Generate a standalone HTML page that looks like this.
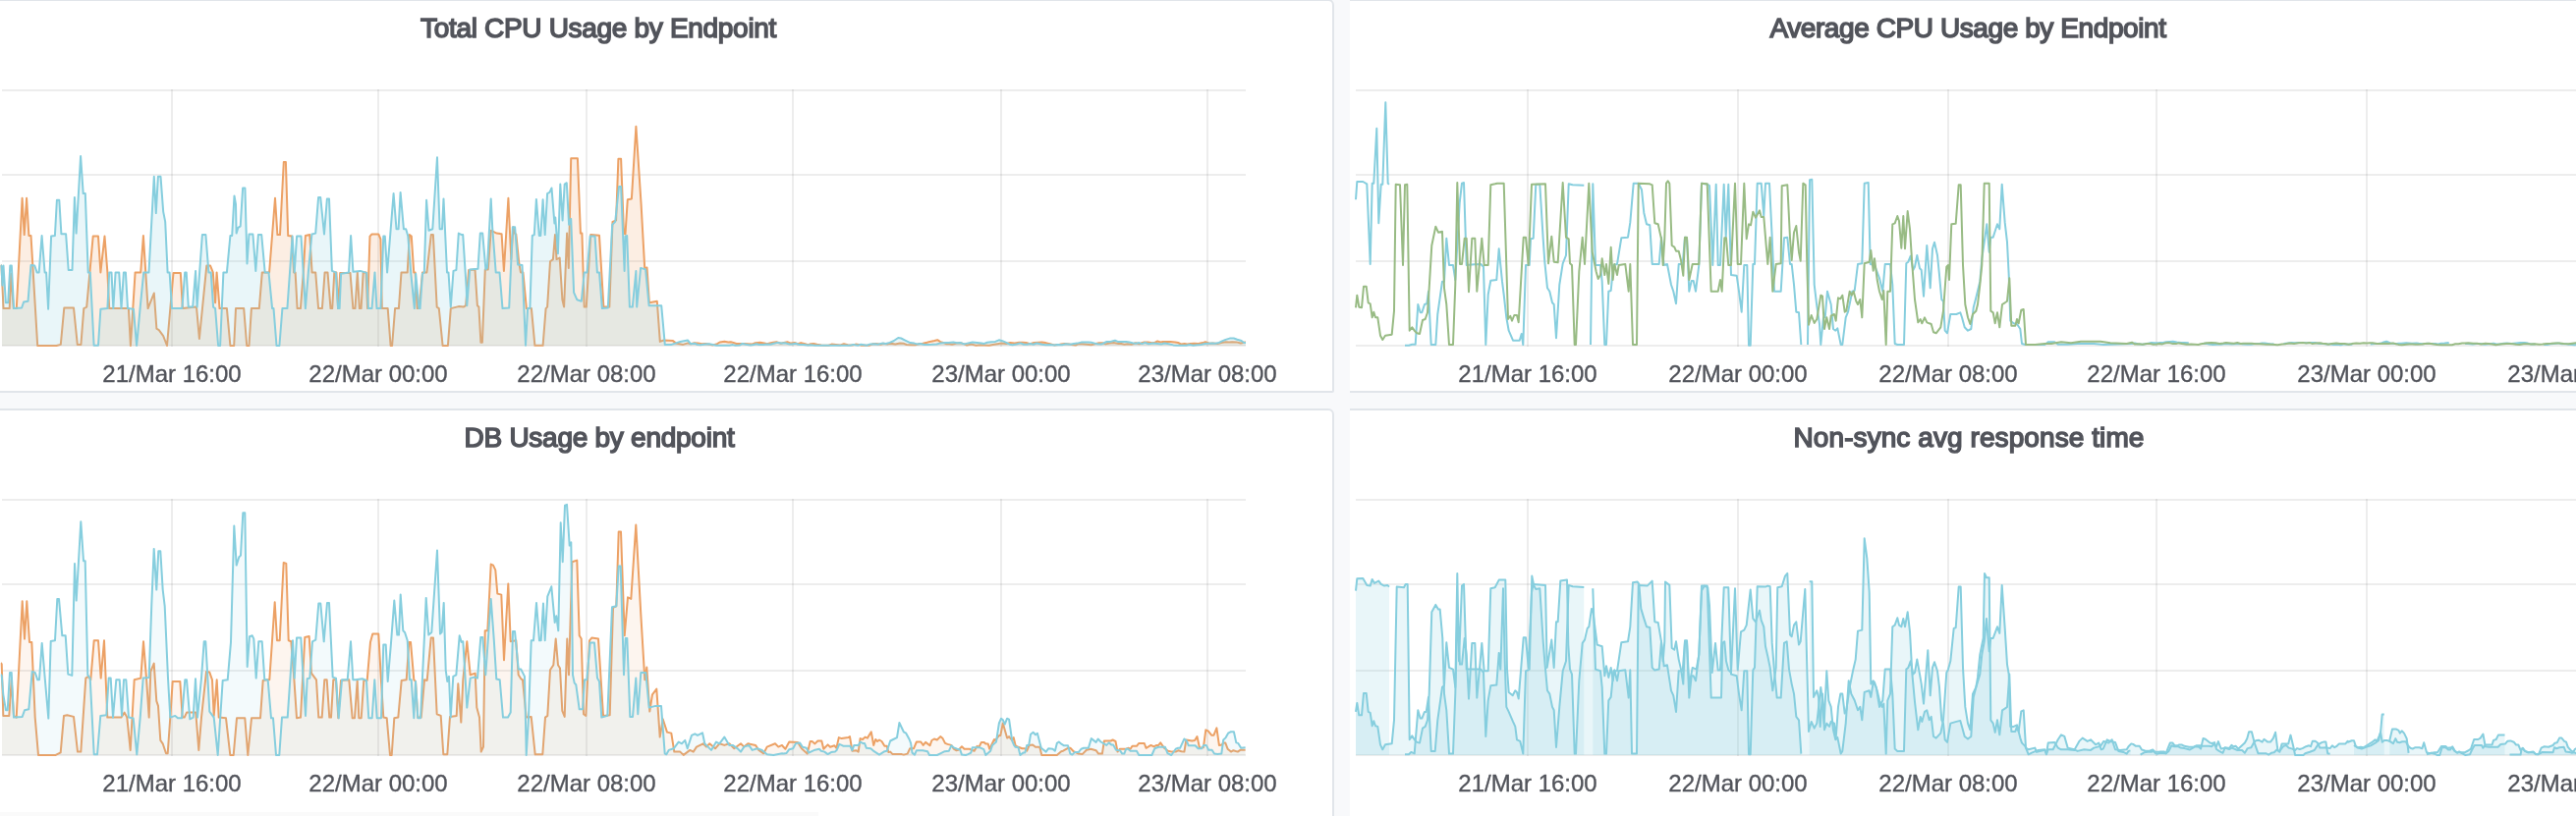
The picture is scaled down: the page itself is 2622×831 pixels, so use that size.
<!DOCTYPE html>
<html lang="en">
<head>
<meta charset="utf-8">
<title>Dashboard</title>
<style>
html,body{margin:0;padding:0}
body{width:2622px;height:831px;overflow:hidden;background:#f8f9fb;position:relative;font-family:"Liberation Sans",Arial,sans-serif;color:#52545b}
.panel{position:absolute;background:#fff;border:2px solid #e1e5ea;box-sizing:border-box;border-radius:6px}
.panel.right{border-left:none;border-top-left-radius:0;border-bottom-left-radius:0}
#p1{left:-142px;top:-1px;width:1500px;height:401px;border-bottom-right-radius:2px}
#p2{left:1374px;top:-1px;width:1290px;height:401px}
#p3{left:-142px;top:416px;width:1500px;height:441px}
#p4{left:1374px;top:416px;width:1290px;height:441px}
.plots{position:absolute;left:0;top:0}
.title{position:absolute;will-change:transform;width:600px;text-align:center;font-weight:normal;-webkit-text-stroke:1.5px #52545b;font-size:28px;line-height:28px;white-space:nowrap}
.tick{position:absolute;will-change:transform;-webkit-text-stroke:0.35px #52545b;width:200px;text-align:center;font-size:24px;line-height:24px;white-space:nowrap}
.sb{position:absolute;left:0;top:827px;width:833px;height:4px;background:#fafafa}
</style>
</head>
<body>
<div class="panel" id="p1"></div>
<div class="panel right" id="p2"></div>
<div class="panel" id="p3"></div>
<div class="panel right" id="p4"></div>
<svg class="plots" width="2622" height="831" viewBox="0 0 2622 831"><rect x="2" y="91" width="1266" height="2" fill="rgba(0,0,0,0.07)"/>
<rect x="2" y="177" width="1266" height="2" fill="rgba(0,0,0,0.07)"/>
<rect x="2" y="265" width="1266" height="2" fill="rgba(0,0,0,0.07)"/>
<rect x="2" y="351" width="1266" height="2" fill="rgba(0,0,0,0.07)"/>
<rect x="174" y="91" width="2" height="262" fill="rgba(0,0,0,0.07)"/>
<rect x="384" y="91" width="2" height="262" fill="rgba(0,0,0,0.07)"/>
<rect x="596" y="91" width="2" height="262" fill="rgba(0,0,0,0.07)"/>
<rect x="806" y="91" width="2" height="262" fill="rgba(0,0,0,0.07)"/>
<rect x="1018" y="91" width="2" height="262" fill="rgba(0,0,0,0.07)"/>
<rect x="1228" y="91" width="2" height="262" fill="rgba(0,0,0,0.07)"/>
<rect x="2" y="508" width="1266" height="2" fill="rgba(0,0,0,0.07)"/>
<rect x="2" y="594" width="1266" height="2" fill="rgba(0,0,0,0.07)"/>
<rect x="2" y="682" width="1266" height="2" fill="rgba(0,0,0,0.07)"/>
<rect x="2" y="768" width="1266" height="2" fill="rgba(0,0,0,0.07)"/>
<rect x="174" y="508" width="2" height="262" fill="rgba(0,0,0,0.07)"/>
<rect x="384" y="508" width="2" height="262" fill="rgba(0,0,0,0.07)"/>
<rect x="596" y="508" width="2" height="262" fill="rgba(0,0,0,0.07)"/>
<rect x="806" y="508" width="2" height="262" fill="rgba(0,0,0,0.07)"/>
<rect x="1018" y="508" width="2" height="262" fill="rgba(0,0,0,0.07)"/>
<rect x="1228" y="508" width="2" height="262" fill="rgba(0,0,0,0.07)"/>
<rect x="1380" y="91" width="1260" height="2" fill="rgba(0,0,0,0.07)"/>
<rect x="1380" y="177" width="1260" height="2" fill="rgba(0,0,0,0.07)"/>
<rect x="1380" y="265" width="1260" height="2" fill="rgba(0,0,0,0.07)"/>
<rect x="1380" y="351" width="1260" height="2" fill="rgba(0,0,0,0.07)"/>
<rect x="1554" y="91" width="2" height="262" fill="rgba(0,0,0,0.07)"/>
<rect x="1768" y="91" width="2" height="262" fill="rgba(0,0,0,0.07)"/>
<rect x="1982" y="91" width="2" height="262" fill="rgba(0,0,0,0.07)"/>
<rect x="2194" y="91" width="2" height="262" fill="rgba(0,0,0,0.07)"/>
<rect x="2408" y="91" width="2" height="262" fill="rgba(0,0,0,0.07)"/>
<rect x="1380" y="508" width="1260" height="2" fill="rgba(0,0,0,0.07)"/>
<rect x="1380" y="594" width="1260" height="2" fill="rgba(0,0,0,0.07)"/>
<rect x="1380" y="682" width="1260" height="2" fill="rgba(0,0,0,0.07)"/>
<rect x="1380" y="768" width="1260" height="2" fill="rgba(0,0,0,0.07)"/>
<rect x="1554" y="508" width="2" height="262" fill="rgba(0,0,0,0.07)"/>
<rect x="1768" y="508" width="2" height="262" fill="rgba(0,0,0,0.07)"/>
<rect x="1982" y="508" width="2" height="262" fill="rgba(0,0,0,0.07)"/>
<rect x="2194" y="508" width="2" height="262" fill="rgba(0,0,0,0.07)"/>
<rect x="2408" y="508" width="2" height="262" fill="rgba(0,0,0,0.07)"/>
<g><path d="M2,352 L2,270.6 L1.5,270.6 L3.5,314.1 L9.7,314.1 L11.2,278.8 L13.8,314.1 L16.8,314.1 L22.6,201.8 L24.7,239.1 L27.1,201.8 L29.4,240.0 L31.5,240.0 L38.2,352 L57.4,352 L61.8,350.9 L65.3,313.5 L75.0,313.5 L78.8,350.9 L82.4,350.9 L85.3,314.1 L88.2,312.6 L94.7,240.6 L100.0,240.6 L102.4,277.4 L106.5,240.6 L109.4,277.4 L111.2,314.1 L130.9,314.1 L132.9,352 L137.6,277.4 L143.2,277.4 L145.9,240.0 L150.6,314.1 L156.8,298.5 L159.4,334.7 L161.8,336.2 L166.2,342.1 L170.0,352 L176.5,277.9 L183.8,277.9 L185.9,314.1 L200.0,312.6 L202.9,345.0 L210.3,270.6 L214.1,270.6 L216.8,277.4 L219.1,308.2 L220.6,277.4 L223.5,314.1 L230.9,314.1 L234.4,352 L238.2,352 L240.0,314.1 L240.3,314.1 L248.2,314.1 L251.2,352 L253.5,352 L255.9,314.1 L263.8,314.1 L266.8,277.4 L274.1,277.4 L280.0,201.8 L282.4,239.1 L285.0,239.1 L288.8,165.0 L290.9,165.0 L293.2,240.0 L297.1,240.6 L299.1,277.4 L300.6,277.4 L302.6,314.1 L305.9,314.1 L308.8,277.4 L310.9,240.0 L315.3,239.1 L317.6,277.4 L321.2,277.4 L324.1,314.1 L327.9,314.1 L330.6,277.4 L333.5,277.4 L336.5,314.1 L338.2,314.1 L340.3,277.4 L342.4,277.4 L344.1,314.1 L346.2,277.9 L356.5,277.9 L359.4,314.1 L361.5,314.1 L363.8,277.4 L365.9,314.1 L367.6,314.1 L369.7,277.4 L372.6,277.4 L374.1,314.1 L376.5,240.6 L378.5,238.5 L385.3,238.5 L387.4,243.5 L388.8,314.1 L394.7,314.1 L397.6,352 L399.1,352 L402.1,314.1 L405.9,314.1 L408.5,277.4 L414.7,277.4 L416.8,239.1 L418.8,240.6 L421.2,277.4 L422.6,277.4 L424.7,314.1 L426.5,314.1 L430.0,277.4 L434.4,277.4 L438.8,239.1 L440.9,239.1 L444.7,312.6 L446.8,314.1 L450.6,352 L455.9,352 L458.8,314.1 L466.8,312.1 L471.8,312.6 L474.1,311.2 L477.1,275.0 L483.5,274.4 L485.9,311.2 L487.4,312.6 L489.4,348.8 L490.9,348.8 L493.8,274.4 L496.8,274.4 L499.7,234.7 L505.6,237.6 L510.6,238.2 L512.9,275.9 L517.4,201.8 L520.3,264.1 L522.4,231.2 L523.8,237.6 L525.3,238.5 L528.2,267.1 L530.0,277.4 L532.4,277.4 L535.9,314.1 L540.9,314.1 L544.4,351.8 L552.6,351.8 L555.6,314.1 L557.1,312.6 L560.0,266.2 L562.9,264.1 L565.0,239.1 L566.5,264.1 L569.7,262.6 L572.4,305.3 L574.1,312.6 L577.1,237.6 L578.8,272.9 L581.2,161.2 L587.9,161.2 L590.9,237.6 L592.4,237.6 L594.7,312.6 L596.8,312.6 L601.2,239.1 L610.0,239.7 L614.4,312.6 L620.3,312.6 L623.5,225.9 L627.1,224.4 L629.4,161.8 L632.1,161.8 L635.0,237.6 L636.5,238.5 L638.8,203.2 L642.9,202.4 L647.4,128.8 L652.6,208.2 L656.2,272.9 L658.5,272.4 L660.9,308.2 L668.8,306.8 L671.8,347.9 L675.6,346.5 L685.0,347.1 L687.9,349.4 L695.3,350.9 L700.0,349.4 L703.0,350.2 L706.8,349.2 L710.4,349.4 L714.3,350.3 L718.0,349.9 L722.4,350.8 L725.6,351.4 L730.0,350.1 L732.6,348.5 L737.4,347.7 L741.3,348.4 L743.8,348.2 L746.4,348.9 L749.5,350.0 L753.1,350.0 L757.6,350.1 L761.6,350.3 L765.7,350.5 L768.8,349.3 L773.7,348.7 L777.9,349.5 L780.9,350.2 L783.5,349.5 L786.9,348.8 L790.3,348.3 L794.9,349.8 L797.8,348.9 L801.4,348.3 L804.9,349.6 L808.8,349.0 L812.0,350.3 L815.2,349.1 L819.5,350.3 L822.6,351.2 L825.2,350.2 L828.1,350.0 L831.6,350.8 L835.9,351.5 L839.9,351.8 L843.4,351.8 L846.5,350.6 L850.9,350.9 L855.5,351.4 L858.9,350.2 L862.9,351.2 L867.8,351.6 L870.9,350.6 L874.2,350.9 L876.8,351.7 L880.7,351.8 L884.6,351.8 L888.1,350.3 L891.8,350.0 L896.4,350.8 L899.2,349.7 L903.6,350.4 L906.6,349.7 L911.3,350.5 L916.1,349.5 L920.0,349.8 L922.7,351.0 L927.5,351.3 L931.7,351.3 L936.2,350.0 L939.3,349.8 L943.6,348.8 L946.6,347.9 L951.1,347.0 L954.2,346.2 L957.2,348.2 L960.3,349.0 L962.9,350.2 L966.2,350.3 L969.0,350.7 L973.7,349.6 L977.7,349.3 L981.6,350.4 L984.1,351.5 L988.8,350.6 L993.6,351.7 L997.6,351.3 L1001.9,351.4 L1006.8,351.8 L1010.6,351.1 L1015.2,350.2 L1019.4,349.5 L1024.1,350.0 L1028.2,349.1 L1032.8,349.5 L1037.2,348.8 L1041.0,348.8 L1044.4,348.9 L1048.4,350.2 L1052.4,349.0 L1057.0,348.7 L1060.4,348.5 L1064.3,349.1 L1068.8,350.3 L1073.0,351.4 L1077.0,351.1 L1080.0,350.4 L1083.7,350.0 L1088.4,350.6 L1090.8,351.0 L1094.9,351.5 L1097.8,350.2 L1101.9,350.3 L1106.5,350.7 L1110.6,351.2 L1114.1,350.2 L1118.8,349.3 L1122.2,349.3 L1125.4,350.4 L1129.1,349.5 L1133.6,349.1 L1138.4,349.9 L1141.2,350.1 L1144.4,350.8 L1147.8,350.3 L1151.5,350.7 L1156.0,349.3 L1159.6,350.3 L1162.1,349.1 L1164.6,348.5 L1168.5,348.6 L1172.9,349.2 L1175.7,348.7 L1178.2,347.5 L1181.2,348.4 L1183.8,348.0 L1187.3,348.1 L1191.4,348.0 L1196.2,348.4 L1199.1,349.0 L1202.0,350.5 L1205.6,350.0 L1208.5,350.6 L1211.8,350.0 L1215.5,349.8 L1219.8,350.1 L1224.2,349.1 L1226.9,348.3 L1231.1,349.7 L1234.6,349.5 L1239.3,349.9 L1243.2,349.1 L1247.6,348.3 L1251.2,348.4 L1254.1,348.3 L1258.6,348.4 L1262.8,349.5 L1267.4,348.5 L1268,348.5 L1268,352 Z" fill="#eca165" fill-opacity="0.18" stroke="none"/><polyline points="2,270.6 1.5,270.6 3.5,314.1 9.7,314.1 11.2,278.8 13.8,314.1 16.8,314.1 22.6,201.8 24.7,239.1 27.1,201.8 29.4,240.0 31.5,240.0 38.2,352 57.4,352 61.8,350.9 65.3,313.5 75.0,313.5 78.8,350.9 82.4,350.9 85.3,314.1 88.2,312.6 94.7,240.6 100.0,240.6 102.4,277.4 106.5,240.6 109.4,277.4 111.2,314.1 130.9,314.1 132.9,352 137.6,277.4 143.2,277.4 145.9,240.0 150.6,314.1 156.8,298.5 159.4,334.7 161.8,336.2 166.2,342.1 170.0,352 176.5,277.9 183.8,277.9 185.9,314.1 200.0,312.6 202.9,345.0 210.3,270.6 214.1,270.6 216.8,277.4 219.1,308.2 220.6,277.4 223.5,314.1 230.9,314.1 234.4,352 238.2,352 240.0,314.1 240.3,314.1 248.2,314.1 251.2,352 253.5,352 255.9,314.1 263.8,314.1 266.8,277.4 274.1,277.4 280.0,201.8 282.4,239.1 285.0,239.1 288.8,165.0 290.9,165.0 293.2,240.0 297.1,240.6 299.1,277.4 300.6,277.4 302.6,314.1 305.9,314.1 308.8,277.4 310.9,240.0 315.3,239.1 317.6,277.4 321.2,277.4 324.1,314.1 327.9,314.1 330.6,277.4 333.5,277.4 336.5,314.1 338.2,314.1 340.3,277.4 342.4,277.4 344.1,314.1 346.2,277.9 356.5,277.9 359.4,314.1 361.5,314.1 363.8,277.4 365.9,314.1 367.6,314.1 369.7,277.4 372.6,277.4 374.1,314.1 376.5,240.6 378.5,238.5 385.3,238.5 387.4,243.5 388.8,314.1 394.7,314.1 397.6,352 399.1,352 402.1,314.1 405.9,314.1 408.5,277.4 414.7,277.4 416.8,239.1 418.8,240.6 421.2,277.4 422.6,277.4 424.7,314.1 426.5,314.1 430.0,277.4 434.4,277.4 438.8,239.1 440.9,239.1 444.7,312.6 446.8,314.1 450.6,352 455.9,352 458.8,314.1 466.8,312.1 471.8,312.6 474.1,311.2 477.1,275.0 483.5,274.4 485.9,311.2 487.4,312.6 489.4,348.8 490.9,348.8 493.8,274.4 496.8,274.4 499.7,234.7 505.6,237.6 510.6,238.2 512.9,275.9 517.4,201.8 520.3,264.1 522.4,231.2 523.8,237.6 525.3,238.5 528.2,267.1 530.0,277.4 532.4,277.4 535.9,314.1 540.9,314.1 544.4,351.8 552.6,351.8 555.6,314.1 557.1,312.6 560.0,266.2 562.9,264.1 565.0,239.1 566.5,264.1 569.7,262.6 572.4,305.3 574.1,312.6 577.1,237.6 578.8,272.9 581.2,161.2 587.9,161.2 590.9,237.6 592.4,237.6 594.7,312.6 596.8,312.6 601.2,239.1 610.0,239.7 614.4,312.6 620.3,312.6 623.5,225.9 627.1,224.4 629.4,161.8 632.1,161.8 635.0,237.6 636.5,238.5 638.8,203.2 642.9,202.4 647.4,128.8 652.6,208.2 656.2,272.9 658.5,272.4 660.9,308.2 668.8,306.8 671.8,347.9 675.6,346.5 685.0,347.1 687.9,349.4 695.3,350.9 700.0,349.4 703.0,350.2 706.8,349.2 710.4,349.4 714.3,350.3 718.0,349.9 722.4,350.8 725.6,351.4 730.0,350.1 732.6,348.5 737.4,347.7 741.3,348.4 743.8,348.2 746.4,348.9 749.5,350.0 753.1,350.0 757.6,350.1 761.6,350.3 765.7,350.5 768.8,349.3 773.7,348.7 777.9,349.5 780.9,350.2 783.5,349.5 786.9,348.8 790.3,348.3 794.9,349.8 797.8,348.9 801.4,348.3 804.9,349.6 808.8,349.0 812.0,350.3 815.2,349.1 819.5,350.3 822.6,351.2 825.2,350.2 828.1,350.0 831.6,350.8 835.9,351.5 839.9,351.8 843.4,351.8 846.5,350.6 850.9,350.9 855.5,351.4 858.9,350.2 862.9,351.2 867.8,351.6 870.9,350.6 874.2,350.9 876.8,351.7 880.7,351.8 884.6,351.8 888.1,350.3 891.8,350.0 896.4,350.8 899.2,349.7 903.6,350.4 906.6,349.7 911.3,350.5 916.1,349.5 920.0,349.8 922.7,351.0 927.5,351.3 931.7,351.3 936.2,350.0 939.3,349.8 943.6,348.8 946.6,347.9 951.1,347.0 954.2,346.2 957.2,348.2 960.3,349.0 962.9,350.2 966.2,350.3 969.0,350.7 973.7,349.6 977.7,349.3 981.6,350.4 984.1,351.5 988.8,350.6 993.6,351.7 997.6,351.3 1001.9,351.4 1006.8,351.8 1010.6,351.1 1015.2,350.2 1019.4,349.5 1024.1,350.0 1028.2,349.1 1032.8,349.5 1037.2,348.8 1041.0,348.8 1044.4,348.9 1048.4,350.2 1052.4,349.0 1057.0,348.7 1060.4,348.5 1064.3,349.1 1068.8,350.3 1073.0,351.4 1077.0,351.1 1080.0,350.4 1083.7,350.0 1088.4,350.6 1090.8,351.0 1094.9,351.5 1097.8,350.2 1101.9,350.3 1106.5,350.7 1110.6,351.2 1114.1,350.2 1118.8,349.3 1122.2,349.3 1125.4,350.4 1129.1,349.5 1133.6,349.1 1138.4,349.9 1141.2,350.1 1144.4,350.8 1147.8,350.3 1151.5,350.7 1156.0,349.3 1159.6,350.3 1162.1,349.1 1164.6,348.5 1168.5,348.6 1172.9,349.2 1175.7,348.7 1178.2,347.5 1181.2,348.4 1183.8,348.0 1187.3,348.1 1191.4,348.0 1196.2,348.4 1199.1,349.0 1202.0,350.5 1205.6,350.0 1208.5,350.6 1211.8,350.0 1215.5,349.8 1219.8,350.1 1224.2,349.1 1226.9,348.3 1231.1,349.7 1234.6,349.5 1239.3,349.9 1243.2,349.1 1247.6,348.3 1251.2,348.4 1254.1,348.3 1258.6,348.4 1262.8,349.5 1267.4,348.5 1268,348.5" fill="none" stroke="#eca165" stroke-width="2" stroke-linejoin="round" stroke-linecap="butt"/><path d="M2,352 L2,270.6 L1.5,270.6 L2.4,290.6 L3.5,270.6 L5.9,308.2 L8.2,308.2 L10.3,270.6 L11.8,270.6 L14.1,314.1 L22.1,313.5 L24.1,307.6 L28.5,306.8 L31.5,270.0 L35.3,270.6 L37.6,277.4 L39.7,277.4 L42.6,240.0 L45.6,277.4 L47.1,277.4 L49.1,314.7 L52.1,240.6 L55.9,240.0 L57.9,203.8 L60.3,203.8 L62.4,238.2 L67.1,238.2 L69.7,275.0 L73.5,275.0 L75.9,200.9 L77.6,237.6 L82.1,159.1 L84.7,197.1 L86.8,197.1 L89.7,277.4 L91.8,277.4 L95.6,351.8 L100.0,351.8 L102.4,314.7 L109.4,314.1 L111.2,277.4 L113.5,277.4 L115.3,314.1 L117.6,277.4 L121.2,277.4 L123.5,314.1 L125.9,277.4 L127.9,277.4 L130.0,314.1 L135.9,314.7 L139.1,351.8 L142.6,314.1 L146.2,277.4 L151.5,277.4 L156.8,179.7 L158.8,217.1 L160.9,179.7 L163.5,179.7 L166.2,215.6 L168.2,225.9 L170.6,277.4 L172.6,277.4 L175.0,314.1 L185.3,314.1 L188.2,277.4 L189.7,277.4 L191.8,312.6 L196.2,312.6 L199.1,275.9 L200.6,312.6 L205.9,239.1 L209.4,239.1 L212.4,277.4 L214.7,277.4 L217.1,312.6 L219.1,314.1 L222.1,352 L224.1,352 L227.4,277.4 L230.9,277.4 L234.4,240.0 L236.2,240.0 L238.5,199.4 L240.0,208.2 L240.6,237.6 L242.4,231.8 L244.7,230.3 L247.1,191.5 L249.4,191.5 L250.6,234.7 L251.5,268.5 L253.5,238.5 L257.4,238.5 L260.3,275.9 L262.9,239.1 L266.2,239.1 L269.7,277.4 L273.5,277.4 L277.1,314.1 L278.5,314.1 L281.5,352 L284.4,352 L287.4,314.1 L292.4,314.1 L297.6,240.6 L299.7,277.4 L302.1,240.6 L306.5,240.6 L310.9,314.1 L313.8,277.4 L317.4,238.5 L321.2,237.6 L324.1,200.9 L326.2,200.9 L330.0,238.5 L332.9,202.4 L335.0,202.4 L337.9,275.9 L341.8,277.4 L344.1,314.1 L345.6,314.1 L347.1,278.8 L355.0,277.4 L357.1,240.0 L359.4,276.8 L366.8,275.9 L373.2,277.9 L375.0,314.1 L378.5,314.1 L381.5,277.4 L383.5,314.1 L387.4,314.1 L390.3,240.6 L391.8,240.6 L394.1,277.4 L397.1,240.6 L400.6,197.1 L403.5,233.2 L405.6,233.2 L407.6,195.9 L410.9,233.2 L413.2,233.2 L415.3,240.6 L418.2,277.4 L421.8,314.1 L423.2,278.8 L426.5,314.1 L427.6,314.1 L430.0,278.8 L431.8,277.4 L434.1,203.8 L436.5,234.7 L440.3,233.2 L445.0,160.3 L447.6,233.2 L450.0,233.2 L451.5,202.4 L455.0,277.4 L456.5,277.4 L458.8,312.6 L461.5,275.9 L464.4,275.0 L466.8,237.6 L470.0,239.1 L471.2,239.1 L474.7,293.5 L475.3,311.2 L478.2,274.4 L486.5,273.8 L488.8,237.6 L491.2,237.6 L494.4,274.4 L495.9,272.9 L499.7,202.4 L501.2,231.8 L504.7,277.4 L508.5,277.4 L511.5,314.1 L518.2,313.5 L521.8,231.2 L524.1,231.2 L527.1,269.4 L531.5,270.0 L535.0,351.8 L537.1,314.1 L539.4,314.1 L541.8,240.0 L543.8,239.1 L545.9,202.9 L548.8,240.0 L550.3,240.0 L552.6,203.2 L554.7,239.1 L557.1,197.1 L559.4,195.9 L561.5,191.5 L564.4,227.4 L565.3,221.5 L567.9,258.2 L570.3,187.6 L572.6,224.4 L574.7,187.6 L576.8,186.2 L579.1,228.8 L581.2,222.9 L584.1,297.9 L587.4,305.3 L591.8,306.8 L594.7,277.4 L597.6,277.4 L600.6,240.6 L605.6,240.6 L607.9,277.4 L610.0,277.4 L612.9,314.1 L618.8,313.5 L623.2,228.8 L626.2,225.9 L630.0,190.0 L632.1,190.0 L635.6,275.9 L636.5,240.6 L638.2,240.0 L640.9,312.6 L643.8,312.6 L647.4,275.9 L648.2,312.6 L652.1,272.9 L657.1,274.4 L660.6,311.2 L662.9,311.2 L673.2,311.2 L676.8,350.9 L683.5,350.9 L692.4,347.9 L700.0,346.5 L703.0,350.2 L707.1,349.7 L709.9,351.0 L713.2,351.3 L717.7,350.6 L721.6,350.3 L725.7,351.1 L729.2,351.7 L733.9,351.8 L738.3,351.8 L742.4,351.8 L745.9,351.1 L748.4,351.8 L753.1,351.4 L755.7,349.9 L760.5,350.9 L764.0,351.6 L767.2,350.9 L770.1,350.2 L772.6,351.0 L777.1,351.0 L780.6,350.6 L784.2,350.7 L786.7,350.0 L791.5,348.9 L795.6,349.5 L798.9,349.2 L803.0,350.4 L806.1,350.6 L809.8,349.8 L813.5,351.0 L817.9,350.9 L821.6,351.4 L825.1,351.3 L829.5,351.8 L833.3,351.8 L837.4,351.8 L840.6,351.8 L844.6,351.8 L848.1,351.8 L851.3,351.8 L856.1,351.8 L860.9,351.8 L865.6,351.8 L868.5,350.9 L873.2,351.8 L876.3,350.8 L879.6,351.2 L882.1,351.8 L886.0,350.4 L890.9,350.3 L893.4,350.7 L897.8,349.6 L901.8,350.0 L905.6,348.9 L909.5,347.3 L914.3,344.0 L917.2,344.5 L921.8,346.8 L926.5,349.1 L930.7,349.6 L933.6,350.4 L936.7,350.0 L940.9,350.9 L945.5,350.9 L948.5,350.8 L953.4,350.5 L957.4,349.4 L962.2,349.0 L965.6,349.0 L970.3,348.6 L974.2,349.3 L977.5,349.0 L981.4,350.4 L985.5,349.4 L989.9,348.6 L994.6,348.9 L999.0,349.5 L1001.7,349.9 L1004.9,348.7 L1009.1,348.2 L1013.0,347.9 L1016.8,346.3 L1020.2,347.2 L1023.7,348.7 L1027.8,350.7 L1030.5,351.3 L1034.6,350.5 L1038.7,349.4 L1042.0,350.7 L1045.7,350.7 L1048.6,350.1 L1051.8,350.8 L1055.1,349.5 L1057.6,350.0 L1060.7,350.7 L1064.2,351.3 L1068.9,351.0 L1073.1,351.6 L1076.7,350.9 L1081.2,351.3 L1084.7,350.2 L1089.2,350.8 L1093.0,350.0 L1096.4,349.6 L1100.5,348.6 L1104.3,348.5 L1107.6,348.4 L1110.9,348.8 L1114.2,349.6 L1117.0,350.3 L1120.8,350.6 L1123.3,349.5 L1126.5,348.0 L1130.4,347.9 L1135.0,346.7 L1138.2,348.1 L1142.2,348.0 L1146.2,348.1 L1149.6,348.5 L1152.7,349.2 L1156.1,349.8 L1159.5,349.1 L1162.4,350.1 L1165.5,349.0 L1169.2,350.3 L1173.7,349.4 L1178.2,349.9 L1182.4,350.4 L1185.2,349.5 L1189.7,350.3 L1194.3,351.4 L1197.5,351.8 L1200.4,351.8 L1204.6,351.8 L1207.5,351.8 L1210.7,351.1 L1214.6,351.8 L1218.8,351.3 L1222.3,350.9 L1226.4,350.0 L1230.1,349.7 L1233.6,349.5 L1237.0,349.7 L1240.8,348.9 L1243.9,347.4 L1247.5,345.9 L1251.7,344.6 L1255.8,344.5 L1259.3,345.7 L1263.6,347.0 L1266.3,349.0 L1268,349.0 L1268,352 Z" fill="#86cede" fill-opacity="0.18" stroke="none"/><polyline points="2,270.6 1.5,270.6 2.4,290.6 3.5,270.6 5.9,308.2 8.2,308.2 10.3,270.6 11.8,270.6 14.1,314.1 22.1,313.5 24.1,307.6 28.5,306.8 31.5,270.0 35.3,270.6 37.6,277.4 39.7,277.4 42.6,240.0 45.6,277.4 47.1,277.4 49.1,314.7 52.1,240.6 55.9,240.0 57.9,203.8 60.3,203.8 62.4,238.2 67.1,238.2 69.7,275.0 73.5,275.0 75.9,200.9 77.6,237.6 82.1,159.1 84.7,197.1 86.8,197.1 89.7,277.4 91.8,277.4 95.6,351.8 100.0,351.8 102.4,314.7 109.4,314.1 111.2,277.4 113.5,277.4 115.3,314.1 117.6,277.4 121.2,277.4 123.5,314.1 125.9,277.4 127.9,277.4 130.0,314.1 135.9,314.7 139.1,351.8 142.6,314.1 146.2,277.4 151.5,277.4 156.8,179.7 158.8,217.1 160.9,179.7 163.5,179.7 166.2,215.6 168.2,225.9 170.6,277.4 172.6,277.4 175.0,314.1 185.3,314.1 188.2,277.4 189.7,277.4 191.8,312.6 196.2,312.6 199.1,275.9 200.6,312.6 205.9,239.1 209.4,239.1 212.4,277.4 214.7,277.4 217.1,312.6 219.1,314.1 222.1,352 224.1,352 227.4,277.4 230.9,277.4 234.4,240.0 236.2,240.0 238.5,199.4 240.0,208.2 240.6,237.6 242.4,231.8 244.7,230.3 247.1,191.5 249.4,191.5 250.6,234.7 251.5,268.5 253.5,238.5 257.4,238.5 260.3,275.9 262.9,239.1 266.2,239.1 269.7,277.4 273.5,277.4 277.1,314.1 278.5,314.1 281.5,352 284.4,352 287.4,314.1 292.4,314.1 297.6,240.6 299.7,277.4 302.1,240.6 306.5,240.6 310.9,314.1 313.8,277.4 317.4,238.5 321.2,237.6 324.1,200.9 326.2,200.9 330.0,238.5 332.9,202.4 335.0,202.4 337.9,275.9 341.8,277.4 344.1,314.1 345.6,314.1 347.1,278.8 355.0,277.4 357.1,240.0 359.4,276.8 366.8,275.9 373.2,277.9 375.0,314.1 378.5,314.1 381.5,277.4 383.5,314.1 387.4,314.1 390.3,240.6 391.8,240.6 394.1,277.4 397.1,240.6 400.6,197.1 403.5,233.2 405.6,233.2 407.6,195.9 410.9,233.2 413.2,233.2 415.3,240.6 418.2,277.4 421.8,314.1 423.2,278.8 426.5,314.1 427.6,314.1 430.0,278.8 431.8,277.4 434.1,203.8 436.5,234.7 440.3,233.2 445.0,160.3 447.6,233.2 450.0,233.2 451.5,202.4 455.0,277.4 456.5,277.4 458.8,312.6 461.5,275.9 464.4,275.0 466.8,237.6 470.0,239.1 471.2,239.1 474.7,293.5 475.3,311.2 478.2,274.4 486.5,273.8 488.8,237.6 491.2,237.6 494.4,274.4 495.9,272.9 499.7,202.4 501.2,231.8 504.7,277.4 508.5,277.4 511.5,314.1 518.2,313.5 521.8,231.2 524.1,231.2 527.1,269.4 531.5,270.0 535.0,351.8 537.1,314.1 539.4,314.1 541.8,240.0 543.8,239.1 545.9,202.9 548.8,240.0 550.3,240.0 552.6,203.2 554.7,239.1 557.1,197.1 559.4,195.9 561.5,191.5 564.4,227.4 565.3,221.5 567.9,258.2 570.3,187.6 572.6,224.4 574.7,187.6 576.8,186.2 579.1,228.8 581.2,222.9 584.1,297.9 587.4,305.3 591.8,306.8 594.7,277.4 597.6,277.4 600.6,240.6 605.6,240.6 607.9,277.4 610.0,277.4 612.9,314.1 618.8,313.5 623.2,228.8 626.2,225.9 630.0,190.0 632.1,190.0 635.6,275.9 636.5,240.6 638.2,240.0 640.9,312.6 643.8,312.6 647.4,275.9 648.2,312.6 652.1,272.9 657.1,274.4 660.6,311.2 662.9,311.2 673.2,311.2 676.8,350.9 683.5,350.9 692.4,347.9 700.0,346.5 703.0,350.2 707.1,349.7 709.9,351.0 713.2,351.3 717.7,350.6 721.6,350.3 725.7,351.1 729.2,351.7 733.9,351.8 738.3,351.8 742.4,351.8 745.9,351.1 748.4,351.8 753.1,351.4 755.7,349.9 760.5,350.9 764.0,351.6 767.2,350.9 770.1,350.2 772.6,351.0 777.1,351.0 780.6,350.6 784.2,350.7 786.7,350.0 791.5,348.9 795.6,349.5 798.9,349.2 803.0,350.4 806.1,350.6 809.8,349.8 813.5,351.0 817.9,350.9 821.6,351.4 825.1,351.3 829.5,351.8 833.3,351.8 837.4,351.8 840.6,351.8 844.6,351.8 848.1,351.8 851.3,351.8 856.1,351.8 860.9,351.8 865.6,351.8 868.5,350.9 873.2,351.8 876.3,350.8 879.6,351.2 882.1,351.8 886.0,350.4 890.9,350.3 893.4,350.7 897.8,349.6 901.8,350.0 905.6,348.9 909.5,347.3 914.3,344.0 917.2,344.5 921.8,346.8 926.5,349.1 930.7,349.6 933.6,350.4 936.7,350.0 940.9,350.9 945.5,350.9 948.5,350.8 953.4,350.5 957.4,349.4 962.2,349.0 965.6,349.0 970.3,348.6 974.2,349.3 977.5,349.0 981.4,350.4 985.5,349.4 989.9,348.6 994.6,348.9 999.0,349.5 1001.7,349.9 1004.9,348.7 1009.1,348.2 1013.0,347.9 1016.8,346.3 1020.2,347.2 1023.7,348.7 1027.8,350.7 1030.5,351.3 1034.6,350.5 1038.7,349.4 1042.0,350.7 1045.7,350.7 1048.6,350.1 1051.8,350.8 1055.1,349.5 1057.6,350.0 1060.7,350.7 1064.2,351.3 1068.9,351.0 1073.1,351.6 1076.7,350.9 1081.2,351.3 1084.7,350.2 1089.2,350.8 1093.0,350.0 1096.4,349.6 1100.5,348.6 1104.3,348.5 1107.6,348.4 1110.9,348.8 1114.2,349.6 1117.0,350.3 1120.8,350.6 1123.3,349.5 1126.5,348.0 1130.4,347.9 1135.0,346.7 1138.2,348.1 1142.2,348.0 1146.2,348.1 1149.6,348.5 1152.7,349.2 1156.1,349.8 1159.5,349.1 1162.4,350.1 1165.5,349.0 1169.2,350.3 1173.7,349.4 1178.2,349.9 1182.4,350.4 1185.2,349.5 1189.7,350.3 1194.3,351.4 1197.5,351.8 1200.4,351.8 1204.6,351.8 1207.5,351.8 1210.7,351.1 1214.6,351.8 1218.8,351.3 1222.3,350.9 1226.4,350.0 1230.1,349.7 1233.6,349.5 1237.0,349.7 1240.8,348.9 1243.9,347.4 1247.5,345.9 1251.7,344.6 1255.8,344.5 1259.3,345.7 1263.6,347.0 1266.3,349.0 1268,349.0" fill="none" stroke="#86cede" stroke-width="2" stroke-linejoin="round" stroke-linecap="butt"/></g>
<g><path d="M2,769 L2,675.6 L1.7,675.6 L2.7,707.3 L3.3,728.9 L9.3,728.9 L11.7,692.3 L14.0,728.9 L16.7,730.6 L22.7,612.3 L25.0,650.6 L27.3,612.3 L30.0,653.9 L32.3,653.9 L35.7,730.6 L39.0,768.9 L56.7,768.9 L61.7,766.3 L65.0,728.9 L68.3,728.3 L75.0,729.9 L79.0,765.6 L82.3,765.6 L87.3,690.6 L90.0,688.9 L92.3,692.3 L95.7,652.3 L100.0,652.3 L102.7,690.6 L106.0,652.3 L109.3,730.6 L123.3,730.6 L126.7,725.6 L129.3,730.6 L132.7,763.9 L136.7,692.3 L143.3,690.6 L146.0,653.3 L149.0,690.6 L151.7,730.6 L153.3,683.9 L156.7,675.6 L159.3,713.9 L161.0,718.9 L163.3,753.9 L165.7,757.3 L169.0,767.3 L170.7,767.3 L173.3,730.6 L175.7,693.9 L183.3,693.9 L185.7,730.6 L187.7,730.6 L190.0,725.6 L199.3,725.6 L202.3,763.9 L205.0,730.6 L210.0,683.9 L213.3,684.6 L216.0,692.3 L217.7,728.9 L220.7,692.3 L222.7,730.6 L230.0,731.3 L234.3,768.9 L237.7,768.9 L241.0,731.3 L249.3,731.3 L252.3,768.9 L256.0,731.3 L265.0,731.3 L267.7,692.9 L272.0,692.3 L274.3,692.3 L279.7,613.3 L282.0,652.3 L284.7,652.3 L288.7,572.9 L291.3,573.9 L293.7,652.3 L296.3,653.3 L299.3,690.6 L302.0,731.3 L306.0,730.6 L310.3,648.9 L314.7,647.9 L317.0,685.6 L322.0,692.3 L324.3,730.6 L327.7,730.6 L330.3,692.3 L332.7,692.3 L335.3,730.6 L337.0,730.6 L339.3,692.3 L342.0,692.3 L344.3,731.3 L347.0,692.9 L355.3,692.3 L358.7,731.3 L361.0,731.3 L363.7,692.9 L365.3,731.3 L367.7,731.3 L370.3,692.9 L373.7,692.9 L377.0,653.9 L379.3,645.6 L385.3,645.6 L388.0,693.9 L390.3,730.6 L393.7,731.3 L397.0,768.9 L398.7,768.9 L401.3,731.3 L405.3,730.6 L408.7,692.9 L413.7,692.3 L416.3,653.9 L418.0,653.9 L421.3,692.3 L423.0,693.9 L425.3,730.6 L428.7,730.6 L432.0,692.3 L434.7,692.9 L438.7,649.6 L441.0,649.6 L444.7,727.3 L448.7,728.9 L451.3,768.3 L455.3,768.3 L458.0,729.9 L464.7,728.9 L466.3,696.3 L469.3,735.6 L471.3,692.3 L475.3,653.3 L478.7,687.3 L483.7,685.6 L485.3,720.6 L488.0,730.6 L489.7,765.6 L492.0,760.6 L493.7,642.3 L496.3,642.3 L499.7,574.6 L502.0,575.6 L504.3,580.6 L506.3,604.6 L510.3,605.6 L513.0,672.3 L517.3,594.6 L519.7,653.3 L525.3,652.3 L527.7,687.3 L530.3,691.3 L532.0,692.3 L535.7,730.6 L540.7,729.9 L544.7,768.3 L552.3,768.3 L555.0,730.6 L557.3,728.9 L560.0,682.3 L563.3,677.3 L565.7,650.6 L568.0,677.3 L570.0,680.6 L572.3,723.9 L574.7,729.9 L577.3,650.6 L579.0,687.3 L582.3,572.3 L587.3,570.6 L589.7,647.3 L591.7,650.6 L594.0,727.3 L596.3,728.9 L600.0,652.3 L602.3,649.6 L609.0,650.6 L614.0,728.9 L620.7,728.3 L624.0,618.9 L627.3,617.3 L629.7,541.6 L632.0,541.6 L635.7,647.3 L639.0,608.3 L642.3,609.9 L647.3,534.6 L652.3,625.6 L656.3,692.3 L658.3,679.6 L661.3,724.6 L664.0,707.3 L668.3,701.6 L671.7,750.6 L674.7,732.3 L679.0,745.6 L683.3,746.6 L686.3,765.6 L692.3,765.6 L695.7,768.9 L702.3,763.9 L705.7,765.6 L709.0,760.6 L715.7,757.3 L719.0,760.6 L722.3,757.3 L728.0,762.3 L732.3,757.3 L737.3,758.9 L742.3,757.3 L747.3,762.3 L754.0,757.3 L757.3,760.6 L761.3,757.3 L769.0,758.9 L772.3,763.9 L777.3,767.3 L780.7,760.6 L789.0,757.3 L792.3,760.6 L796.0,758.9 L797.5,760.8 L799.4,762.7 L803.3,755.5 L812.0,755.9 L815.9,762.3 L821.7,767.6 L824.7,755.0 L826.6,755.0 L829.5,757.4 L832.4,754.5 L836.3,754.5 L838.3,762.7 L842.6,758.4 L845.0,760.8 L849.4,759.3 L851.4,761.8 L853.8,751.1 L856.7,752.1 L863.5,751.1 L865.0,750.1 L867.4,764.7 L871.7,764.2 L873.7,765.6 L875.6,752.1 L878.1,753.0 L880.5,750.6 L882.9,751.6 L886.8,745.3 L889.2,758.9 L891.2,753.0 L893.1,755.0 L895.0,753.5 L897.5,755.0 L900.4,759.8 L902.8,759.8 L904.3,766.1 L906.2,765.6 L908.6,768.1 L917.9,768.1 L919.8,768.6 L923.7,767.6 L926.1,762.3 L930.0,762.3 L932.9,755.5 L937.3,755.5 L939.7,758.9 L942.1,755.9 L944.1,757.4 L946.5,759.3 L948.4,754.0 L950.9,752.5 L953.8,753.5 L957.2,750.1 L959.6,752.1 L962.0,756.9 L964.5,757.9 L968.3,758.9 L970.8,762.7 L973.2,764.2 L975.6,763.7 L979.0,760.3 L981.5,762.7 L986.8,762.7 L988.7,763.7 L991.7,764.7 L994.6,759.8 L996.5,760.8 L998.9,755.9 L1001.4,755.9 L1003.3,757.4 L1005.7,757.4 L1007.2,762.7 L1012.0,753.0 L1013.0,754.0 L1016.9,749.1 L1018.3,749.1 L1020.8,736.5 L1025.1,751.6 L1027.1,750.1 L1030.1,754.0 L1031.7,751.1 L1033.6,759.3 L1036.5,760.8 L1040.4,762.3 L1043.3,762.3 L1045.2,764.7 L1047.7,758.9 L1051.1,758.4 L1054.0,760.8 L1058.3,760.8 L1060.3,769 L1075.8,769 L1080.2,765.2 L1082.1,764.7 L1087.0,761.8 L1089.4,761.8 L1092.8,765.2 L1097.7,767.6 L1101.6,768.1 L1105.9,763.7 L1110.3,762.7 L1115.6,764.2 L1118.1,767.6 L1121.9,767.6 L1123.9,754.5 L1130.7,754.5 L1132.6,753.5 L1135.5,755.0 L1137.5,765.6 L1139.9,762.7 L1146.2,762.7 L1148.2,761.8 L1150.6,762.7 L1152.5,759.8 L1156.9,759.8 L1159.3,756.9 L1164.7,756.9 L1166.6,761.8 L1171.5,758.9 L1174.4,760.3 L1177.3,758.9 L1179.2,758.9 L1181.2,756.4 L1185.0,761.8 L1188.9,764.7 L1192.8,765.6 L1196.7,765.6 L1199.6,764.2 L1202.5,765.2 L1205.4,765.6 L1207.4,753.5 L1213.2,754.5 L1216.1,754.0 L1218.5,750.1 L1221.0,761.8 L1224.9,761.3 L1227.3,743.3 L1229.7,744.3 L1233.1,748.7 L1235.5,748.7 L1238.4,741.4 L1240.9,758.9 L1243.8,758.4 L1245.2,756.4 L1247.2,756.4 L1249.6,762.7 L1253.0,765.6 L1255.4,764.2 L1259.8,765.6 L1262.7,763.7 L1267.6,763.7 L1267.6,769 Z" fill="#eca165" fill-opacity="0.1" stroke="none"/><polyline points="2,675.6 1.7,675.6 2.7,707.3 3.3,728.9 9.3,728.9 11.7,692.3 14.0,728.9 16.7,730.6 22.7,612.3 25.0,650.6 27.3,612.3 30.0,653.9 32.3,653.9 35.7,730.6 39.0,768.9 56.7,768.9 61.7,766.3 65.0,728.9 68.3,728.3 75.0,729.9 79.0,765.6 82.3,765.6 87.3,690.6 90.0,688.9 92.3,692.3 95.7,652.3 100.0,652.3 102.7,690.6 106.0,652.3 109.3,730.6 123.3,730.6 126.7,725.6 129.3,730.6 132.7,763.9 136.7,692.3 143.3,690.6 146.0,653.3 149.0,690.6 151.7,730.6 153.3,683.9 156.7,675.6 159.3,713.9 161.0,718.9 163.3,753.9 165.7,757.3 169.0,767.3 170.7,767.3 173.3,730.6 175.7,693.9 183.3,693.9 185.7,730.6 187.7,730.6 190.0,725.6 199.3,725.6 202.3,763.9 205.0,730.6 210.0,683.9 213.3,684.6 216.0,692.3 217.7,728.9 220.7,692.3 222.7,730.6 230.0,731.3 234.3,768.9 237.7,768.9 241.0,731.3 249.3,731.3 252.3,768.9 256.0,731.3 265.0,731.3 267.7,692.9 272.0,692.3 274.3,692.3 279.7,613.3 282.0,652.3 284.7,652.3 288.7,572.9 291.3,573.9 293.7,652.3 296.3,653.3 299.3,690.6 302.0,731.3 306.0,730.6 310.3,648.9 314.7,647.9 317.0,685.6 322.0,692.3 324.3,730.6 327.7,730.6 330.3,692.3 332.7,692.3 335.3,730.6 337.0,730.6 339.3,692.3 342.0,692.3 344.3,731.3 347.0,692.9 355.3,692.3 358.7,731.3 361.0,731.3 363.7,692.9 365.3,731.3 367.7,731.3 370.3,692.9 373.7,692.9 377.0,653.9 379.3,645.6 385.3,645.6 388.0,693.9 390.3,730.6 393.7,731.3 397.0,768.9 398.7,768.9 401.3,731.3 405.3,730.6 408.7,692.9 413.7,692.3 416.3,653.9 418.0,653.9 421.3,692.3 423.0,693.9 425.3,730.6 428.7,730.6 432.0,692.3 434.7,692.9 438.7,649.6 441.0,649.6 444.7,727.3 448.7,728.9 451.3,768.3 455.3,768.3 458.0,729.9 464.7,728.9 466.3,696.3 469.3,735.6 471.3,692.3 475.3,653.3 478.7,687.3 483.7,685.6 485.3,720.6 488.0,730.6 489.7,765.6 492.0,760.6 493.7,642.3 496.3,642.3 499.7,574.6 502.0,575.6 504.3,580.6 506.3,604.6 510.3,605.6 513.0,672.3 517.3,594.6 519.7,653.3 525.3,652.3 527.7,687.3 530.3,691.3 532.0,692.3 535.7,730.6 540.7,729.9 544.7,768.3 552.3,768.3 555.0,730.6 557.3,728.9 560.0,682.3 563.3,677.3 565.7,650.6 568.0,677.3 570.0,680.6 572.3,723.9 574.7,729.9 577.3,650.6 579.0,687.3 582.3,572.3 587.3,570.6 589.7,647.3 591.7,650.6 594.0,727.3 596.3,728.9 600.0,652.3 602.3,649.6 609.0,650.6 614.0,728.9 620.7,728.3 624.0,618.9 627.3,617.3 629.7,541.6 632.0,541.6 635.7,647.3 639.0,608.3 642.3,609.9 647.3,534.6 652.3,625.6 656.3,692.3 658.3,679.6 661.3,724.6 664.0,707.3 668.3,701.6 671.7,750.6 674.7,732.3 679.0,745.6 683.3,746.6 686.3,765.6 692.3,765.6 695.7,768.9 702.3,763.9 705.7,765.6 709.0,760.6 715.7,757.3 719.0,760.6 722.3,757.3 728.0,762.3 732.3,757.3 737.3,758.9 742.3,757.3 747.3,762.3 754.0,757.3 757.3,760.6 761.3,757.3 769.0,758.9 772.3,763.9 777.3,767.3 780.7,760.6 789.0,757.3 792.3,760.6 796.0,758.9 797.5,760.8 799.4,762.7 803.3,755.5 812.0,755.9 815.9,762.3 821.7,767.6 824.7,755.0 826.6,755.0 829.5,757.4 832.4,754.5 836.3,754.5 838.3,762.7 842.6,758.4 845.0,760.8 849.4,759.3 851.4,761.8 853.8,751.1 856.7,752.1 863.5,751.1 865.0,750.1 867.4,764.7 871.7,764.2 873.7,765.6 875.6,752.1 878.1,753.0 880.5,750.6 882.9,751.6 886.8,745.3 889.2,758.9 891.2,753.0 893.1,755.0 895.0,753.5 897.5,755.0 900.4,759.8 902.8,759.8 904.3,766.1 906.2,765.6 908.6,768.1 917.9,768.1 919.8,768.6 923.7,767.6 926.1,762.3 930.0,762.3 932.9,755.5 937.3,755.5 939.7,758.9 942.1,755.9 944.1,757.4 946.5,759.3 948.4,754.0 950.9,752.5 953.8,753.5 957.2,750.1 959.6,752.1 962.0,756.9 964.5,757.9 968.3,758.9 970.8,762.7 973.2,764.2 975.6,763.7 979.0,760.3 981.5,762.7 986.8,762.7 988.7,763.7 991.7,764.7 994.6,759.8 996.5,760.8 998.9,755.9 1001.4,755.9 1003.3,757.4 1005.7,757.4 1007.2,762.7 1012.0,753.0 1013.0,754.0 1016.9,749.1 1018.3,749.1 1020.8,736.5 1025.1,751.6 1027.1,750.1 1030.1,754.0 1031.7,751.1 1033.6,759.3 1036.5,760.8 1040.4,762.3 1043.3,762.3 1045.2,764.7 1047.7,758.9 1051.1,758.4 1054.0,760.8 1058.3,760.8 1060.3,769 1075.8,769 1080.2,765.2 1082.1,764.7 1087.0,761.8 1089.4,761.8 1092.8,765.2 1097.7,767.6 1101.6,768.1 1105.9,763.7 1110.3,762.7 1115.6,764.2 1118.1,767.6 1121.9,767.6 1123.9,754.5 1130.7,754.5 1132.6,753.5 1135.5,755.0 1137.5,765.6 1139.9,762.7 1146.2,762.7 1148.2,761.8 1150.6,762.7 1152.5,759.8 1156.9,759.8 1159.3,756.9 1164.7,756.9 1166.6,761.8 1171.5,758.9 1174.4,760.3 1177.3,758.9 1179.2,758.9 1181.2,756.4 1185.0,761.8 1188.9,764.7 1192.8,765.6 1196.7,765.6 1199.6,764.2 1202.5,765.2 1205.4,765.6 1207.4,753.5 1213.2,754.5 1216.1,754.0 1218.5,750.1 1221.0,761.8 1224.9,761.3 1227.3,743.3 1229.7,744.3 1233.1,748.7 1235.5,748.7 1238.4,741.4 1240.9,758.9 1243.8,758.4 1245.2,756.4 1247.2,756.4 1249.6,762.7 1253.0,765.6 1255.4,764.2 1259.8,765.6 1262.7,763.7 1267.6,763.7" fill="none" stroke="#eca165" stroke-width="2" stroke-linejoin="round" stroke-linecap="butt"/><path d="M2,769 L2,687.3 L1.7,687.3 L3.3,707.3 L6.0,723.3 L7.7,723.3 L10.0,684.9 L11.7,684.9 L14.0,730.6 L22.7,729.9 L25.0,723.3 L29.3,722.3 L32.7,683.9 L35.7,684.9 L38.3,692.3 L40.0,692.3 L42.7,654.9 L46.0,693.9 L49.3,731.6 L51.7,652.9 L56.0,652.3 L58.3,609.9 L60.0,609.9 L63.3,647.3 L66.7,647.3 L69.3,686.6 L73.3,687.9 L76.0,573.9 L77.7,611.6 L82.3,531.3 L85.0,571.3 L86.7,571.3 L89.3,687.3 L91.7,690.6 L95.7,768.3 L99.0,768.3 L102.3,728.9 L108.3,728.3 L110.7,690.6 L112.7,690.6 L115.0,730.6 L118.3,692.3 L121.7,692.3 L124.0,728.9 L126.0,692.3 L128.3,692.3 L131.0,730.6 L135.7,731.6 L139.3,768.3 L142.7,730.6 L145.7,690.6 L151.7,689.9 L154.3,615.6 L156.7,558.9 L159.3,600.6 L161.3,561.3 L163.3,561.3 L165.7,600.6 L167.7,617.3 L171.0,690.6 L173.3,730.6 L178.3,728.9 L181.0,731.3 L185.0,731.3 L188.3,692.3 L190.0,692.3 L193.3,732.3 L196.7,730.6 L199.0,691.3 L201.0,730.6 L205.0,690.6 L207.7,653.3 L209.3,653.3 L213.3,724.6 L217.7,730.6 L221.7,768.9 L226.7,692.9 L231.7,692.3 L235.0,653.9 L238.3,535.6 L240.7,575.6 L243.3,567.3 L245.0,565.6 L247.3,522.3 L249.3,522.3 L251.7,678.9 L254.0,648.3 L256.7,647.3 L258.3,650.6 L260.7,690.6 L263.3,653.3 L266.7,653.3 L269.3,692.3 L272.0,692.3 L272.7,692.9 L276.0,731.3 L278.0,731.3 L281.0,768.9 L284.3,768.9 L287.0,730.6 L292.7,730.6 L298.0,652.3 L299.7,690.6 L302.0,649.6 L306.3,649.6 L308.7,692.3 L311.0,728.9 L312.7,691.3 L315.3,690.6 L318.0,653.3 L321.3,651.6 L324.3,614.6 L326.3,614.6 L329.7,653.3 L333.0,613.9 L335.0,613.9 L338.7,689.6 L342.0,690.6 L344.7,731.3 L348.0,692.3 L353.7,692.3 L357.0,653.3 L359.3,692.3 L362.0,692.3 L368.7,691.3 L373.0,692.9 L375.3,731.3 L378.7,731.3 L381.3,692.3 L383.7,731.3 L388.0,731.3 L390.3,656.6 L392.7,656.6 L394.7,693.9 L398.0,654.9 L401.3,611.6 L404.3,646.6 L406.0,646.6 L407.7,605.6 L410.3,642.3 L412.0,643.9 L414.7,652.3 L417.0,692.3 L418.7,692.3 L421.3,731.3 L423.0,693.9 L425.3,731.3 L428.0,731.3 L432.0,647.3 L433.7,608.9 L436.3,646.6 L439.3,643.9 L445.0,560.6 L448.0,645.6 L449.7,643.9 L451.7,613.9 L453.7,682.3 L455.3,693.9 L457.0,688.9 L458.7,730.6 L461.3,688.9 L464.3,687.3 L467.7,647.3 L469.7,653.9 L471.3,653.3 L473.7,692.3 L475.3,720.6 L478.7,690.6 L483.0,689.6 L486.0,690.6 L489.3,648.9 L491.3,648.9 L494.3,687.3 L499.7,609.9 L502.7,650.6 L505.3,691.6 L508.7,692.3 L512.0,730.6 L517.0,730.6 L519.7,725.6 L522.0,642.9 L524.0,642.9 L527.7,681.6 L530.3,681.6 L534.0,688.9 L535.7,768.9 L538.0,730.6 L540.7,652.3 L543.0,652.3 L546.0,613.9 L549.0,652.3 L550.7,652.3 L553.0,614.6 L554.7,652.3 L557.3,607.3 L561.3,597.3 L564.7,633.9 L566.3,627.3 L568.3,642.3 L570.7,532.3 L572.7,572.3 L575.0,514.6 L577.0,513.9 L579.7,555.6 L581.3,552.3 L583.0,687.3 L584.7,695.6 L586.3,697.3 L589.7,722.3 L593.0,722.3 L595.0,692.3 L597.3,692.3 L600.7,654.6 L605.0,654.6 L608.0,690.6 L610.0,693.9 L612.3,730.6 L618.3,728.9 L623.0,618.3 L627.3,617.3 L629.7,576.6 L631.7,576.6 L635.0,687.3 L636.7,649.9 L638.3,649.9 L641.3,729.9 L644.0,729.9 L647.3,690.6 L649.3,727.3 L652.3,684.9 L657.3,684.9 L660.7,720.6 L667.3,718.9 L673.0,718.9 L676.7,767.3 L678.3,768.3 L680.7,763.9 L685.7,762.3 L690.7,755.6 L694.0,757.3 L697.3,753.9 L699.7,762.3 L704.0,748.9 L707.3,747.3 L710.0,748.9 L715.0,746.3 L717.3,757.3 L720.7,760.6 L724.0,763.9 L729.0,755.6 L732.3,757.3 L737.3,750.6 L742.3,758.9 L745.7,758.9 L750.7,762.3 L754.0,765.6 L757.3,760.6 L762.3,758.9 L765.7,763.9 L770.7,762.3 L775.7,763.9 L780.7,768.3 L787.3,768.9 L796.0,767.3 L797.5,767.6 L800.4,767.1 L803.3,763.2 L807.2,762.3 L810.1,756.9 L814.0,756.4 L816.9,760.8 L820.8,761.8 L823.2,766.6 L829.5,763.7 L833.9,762.7 L835.8,764.7 L839.2,765.6 L842.6,768.1 L846.0,766.1 L849.9,765.6 L851.8,763.7 L854.3,757.9 L856.7,758.9 L858.6,759.8 L865.4,759.8 L867.4,764.2 L869.3,758.9 L873.7,758.9 L875.6,755.5 L878.1,756.9 L880.0,756.9 L881.9,761.8 L886.3,762.3 L889.7,765.2 L895.0,768.6 L900.4,765.2 L902.8,764.7 L906.2,754.5 L908.2,753.5 L913.0,751.1 L915.4,736.0 L919.8,745.3 L922.2,746.7 L925.6,753.0 L927.1,756.9 L928.5,766.6 L931.0,768.6 L932.9,764.2 L939.2,764.2 L944.1,765.2 L946.0,769 L953.8,769 L957.7,767.1 L961.6,765.2 L965.9,764.7 L968.3,759.3 L970.8,761.3 L974.2,762.7 L977.1,763.2 L979.0,768.6 L982.9,769 L985.3,768.1 L988.3,766.6 L989.7,761.3 L997.5,761.3 L1001.4,763.2 L1003.3,769 L1008.2,764.7 L1010.1,758.9 L1014.0,755.5 L1016.9,736.5 L1019.0,731.7 L1020.8,733.1 L1022.7,737.5 L1025.1,731.7 L1027.1,732.6 L1030.1,754.0 L1032.1,758.9 L1033.6,760.8 L1036.5,761.3 L1038.4,769 L1041.4,766.6 L1043.3,766.6 L1045.2,758.9 L1047.2,758.9 L1049.1,747.7 L1051.6,745.7 L1054.0,748.2 L1055.9,746.7 L1059.8,761.8 L1064.7,765.6 L1067.1,762.3 L1071.5,762.7 L1073.9,764.7 L1075.8,756.9 L1077.8,755.5 L1080.7,757.9 L1083.1,759.3 L1087.0,759.3 L1089.4,767.6 L1091.4,768.6 L1093.8,766.1 L1097.7,766.1 L1100.6,762.7 L1103.0,761.8 L1107.9,761.8 L1110.8,752.1 L1115.6,755.9 L1117.6,752.5 L1120.5,755.5 L1126.3,758.9 L1128.7,756.4 L1131.2,758.4 L1133.1,758.4 L1136.0,763.7 L1139.9,764.2 L1142.3,767.6 L1144.3,767.6 L1146.2,762.7 L1148.2,762.7 L1150.6,764.7 L1156.9,764.7 L1159.3,769 L1172.4,769 L1175.3,762.3 L1179.2,760.8 L1186.0,760.8 L1188.4,767.1 L1192.3,769 L1196.7,762.7 L1199.1,761.8 L1201.1,761.8 L1205.4,752.5 L1207.9,754.5 L1209.8,759.3 L1216.6,759.3 L1219.5,762.3 L1222.9,762.3 L1225.3,758.9 L1227.8,758.9 L1230.2,763.7 L1233.6,763.7 L1236.0,767.6 L1239.4,768.1 L1243.3,767.6 L1245.2,753.5 L1247.7,751.1 L1250.1,746.7 L1252.5,745.3 L1255.9,745.3 L1258.3,756.4 L1260.3,756.9 L1263.2,761.8 L1267.6,761.3 L1267.6,769 Z" fill="#86cede" fill-opacity="0.1" stroke="none"/><polyline points="2,687.3 1.7,687.3 3.3,707.3 6.0,723.3 7.7,723.3 10.0,684.9 11.7,684.9 14.0,730.6 22.7,729.9 25.0,723.3 29.3,722.3 32.7,683.9 35.7,684.9 38.3,692.3 40.0,692.3 42.7,654.9 46.0,693.9 49.3,731.6 51.7,652.9 56.0,652.3 58.3,609.9 60.0,609.9 63.3,647.3 66.7,647.3 69.3,686.6 73.3,687.9 76.0,573.9 77.7,611.6 82.3,531.3 85.0,571.3 86.7,571.3 89.3,687.3 91.7,690.6 95.7,768.3 99.0,768.3 102.3,728.9 108.3,728.3 110.7,690.6 112.7,690.6 115.0,730.6 118.3,692.3 121.7,692.3 124.0,728.9 126.0,692.3 128.3,692.3 131.0,730.6 135.7,731.6 139.3,768.3 142.7,730.6 145.7,690.6 151.7,689.9 154.3,615.6 156.7,558.9 159.3,600.6 161.3,561.3 163.3,561.3 165.7,600.6 167.7,617.3 171.0,690.6 173.3,730.6 178.3,728.9 181.0,731.3 185.0,731.3 188.3,692.3 190.0,692.3 193.3,732.3 196.7,730.6 199.0,691.3 201.0,730.6 205.0,690.6 207.7,653.3 209.3,653.3 213.3,724.6 217.7,730.6 221.7,768.9 226.7,692.9 231.7,692.3 235.0,653.9 238.3,535.6 240.7,575.6 243.3,567.3 245.0,565.6 247.3,522.3 249.3,522.3 251.7,678.9 254.0,648.3 256.7,647.3 258.3,650.6 260.7,690.6 263.3,653.3 266.7,653.3 269.3,692.3 272.0,692.3 272.7,692.9 276.0,731.3 278.0,731.3 281.0,768.9 284.3,768.9 287.0,730.6 292.7,730.6 298.0,652.3 299.7,690.6 302.0,649.6 306.3,649.6 308.7,692.3 311.0,728.9 312.7,691.3 315.3,690.6 318.0,653.3 321.3,651.6 324.3,614.6 326.3,614.6 329.7,653.3 333.0,613.9 335.0,613.9 338.7,689.6 342.0,690.6 344.7,731.3 348.0,692.3 353.7,692.3 357.0,653.3 359.3,692.3 362.0,692.3 368.7,691.3 373.0,692.9 375.3,731.3 378.7,731.3 381.3,692.3 383.7,731.3 388.0,731.3 390.3,656.6 392.7,656.6 394.7,693.9 398.0,654.9 401.3,611.6 404.3,646.6 406.0,646.6 407.7,605.6 410.3,642.3 412.0,643.9 414.7,652.3 417.0,692.3 418.7,692.3 421.3,731.3 423.0,693.9 425.3,731.3 428.0,731.3 432.0,647.3 433.7,608.9 436.3,646.6 439.3,643.9 445.0,560.6 448.0,645.6 449.7,643.9 451.7,613.9 453.7,682.3 455.3,693.9 457.0,688.9 458.7,730.6 461.3,688.9 464.3,687.3 467.7,647.3 469.7,653.9 471.3,653.3 473.7,692.3 475.3,720.6 478.7,690.6 483.0,689.6 486.0,690.6 489.3,648.9 491.3,648.9 494.3,687.3 499.7,609.9 502.7,650.6 505.3,691.6 508.7,692.3 512.0,730.6 517.0,730.6 519.7,725.6 522.0,642.9 524.0,642.9 527.7,681.6 530.3,681.6 534.0,688.9 535.7,768.9 538.0,730.6 540.7,652.3 543.0,652.3 546.0,613.9 549.0,652.3 550.7,652.3 553.0,614.6 554.7,652.3 557.3,607.3 561.3,597.3 564.7,633.9 566.3,627.3 568.3,642.3 570.7,532.3 572.7,572.3 575.0,514.6 577.0,513.9 579.7,555.6 581.3,552.3 583.0,687.3 584.7,695.6 586.3,697.3 589.7,722.3 593.0,722.3 595.0,692.3 597.3,692.3 600.7,654.6 605.0,654.6 608.0,690.6 610.0,693.9 612.3,730.6 618.3,728.9 623.0,618.3 627.3,617.3 629.7,576.6 631.7,576.6 635.0,687.3 636.7,649.9 638.3,649.9 641.3,729.9 644.0,729.9 647.3,690.6 649.3,727.3 652.3,684.9 657.3,684.9 660.7,720.6 667.3,718.9 673.0,718.9 676.7,767.3 678.3,768.3 680.7,763.9 685.7,762.3 690.7,755.6 694.0,757.3 697.3,753.9 699.7,762.3 704.0,748.9 707.3,747.3 710.0,748.9 715.0,746.3 717.3,757.3 720.7,760.6 724.0,763.9 729.0,755.6 732.3,757.3 737.3,750.6 742.3,758.9 745.7,758.9 750.7,762.3 754.0,765.6 757.3,760.6 762.3,758.9 765.7,763.9 770.7,762.3 775.7,763.9 780.7,768.3 787.3,768.9 796.0,767.3 797.5,767.6 800.4,767.1 803.3,763.2 807.2,762.3 810.1,756.9 814.0,756.4 816.9,760.8 820.8,761.8 823.2,766.6 829.5,763.7 833.9,762.7 835.8,764.7 839.2,765.6 842.6,768.1 846.0,766.1 849.9,765.6 851.8,763.7 854.3,757.9 856.7,758.9 858.6,759.8 865.4,759.8 867.4,764.2 869.3,758.9 873.7,758.9 875.6,755.5 878.1,756.9 880.0,756.9 881.9,761.8 886.3,762.3 889.7,765.2 895.0,768.6 900.4,765.2 902.8,764.7 906.2,754.5 908.2,753.5 913.0,751.1 915.4,736.0 919.8,745.3 922.2,746.7 925.6,753.0 927.1,756.9 928.5,766.6 931.0,768.6 932.9,764.2 939.2,764.2 944.1,765.2 946.0,769 953.8,769 957.7,767.1 961.6,765.2 965.9,764.7 968.3,759.3 970.8,761.3 974.2,762.7 977.1,763.2 979.0,768.6 982.9,769 985.3,768.1 988.3,766.6 989.7,761.3 997.5,761.3 1001.4,763.2 1003.3,769 1008.2,764.7 1010.1,758.9 1014.0,755.5 1016.9,736.5 1019.0,731.7 1020.8,733.1 1022.7,737.5 1025.1,731.7 1027.1,732.6 1030.1,754.0 1032.1,758.9 1033.6,760.8 1036.5,761.3 1038.4,769 1041.4,766.6 1043.3,766.6 1045.2,758.9 1047.2,758.9 1049.1,747.7 1051.6,745.7 1054.0,748.2 1055.9,746.7 1059.8,761.8 1064.7,765.6 1067.1,762.3 1071.5,762.7 1073.9,764.7 1075.8,756.9 1077.8,755.5 1080.7,757.9 1083.1,759.3 1087.0,759.3 1089.4,767.6 1091.4,768.6 1093.8,766.1 1097.7,766.1 1100.6,762.7 1103.0,761.8 1107.9,761.8 1110.8,752.1 1115.6,755.9 1117.6,752.5 1120.5,755.5 1126.3,758.9 1128.7,756.4 1131.2,758.4 1133.1,758.4 1136.0,763.7 1139.9,764.2 1142.3,767.6 1144.3,767.6 1146.2,762.7 1148.2,762.7 1150.6,764.7 1156.9,764.7 1159.3,769 1172.4,769 1175.3,762.3 1179.2,760.8 1186.0,760.8 1188.4,767.1 1192.3,769 1196.7,762.7 1199.1,761.8 1201.1,761.8 1205.4,752.5 1207.9,754.5 1209.8,759.3 1216.6,759.3 1219.5,762.3 1222.9,762.3 1225.3,758.9 1227.8,758.9 1230.2,763.7 1233.6,763.7 1236.0,767.6 1239.4,768.1 1243.3,767.6 1245.2,753.5 1247.7,751.1 1250.1,746.7 1252.5,745.3 1255.9,745.3 1258.3,756.4 1260.3,756.9 1263.2,761.8 1267.6,761.3" fill="none" stroke="#86cede" stroke-width="2" stroke-linejoin="round" stroke-linecap="butt"/></g>
<g><polyline points="1380.0,203.3 1381.3,185.0 1387.3,185.0 1391.3,187.3 1394.7,269.0 1396.7,186.7 1398.3,186.7 1401.3,130.7 1403.3,227.3 1405.7,187.7 1407.3,187.7 1410.3,104.3 1412.7,186.7 1414.0,187.7" fill="none" stroke="#86cede" stroke-width="2" stroke-linejoin="round" stroke-linecap="butt"/><polyline points="1430.0,351.7 1434.0,351.7 1437.3,350.7 1440.7,350.7 1443.3,310.0 1445.7,318.3 1447.3,318.3 1450.0,310.0 1452.3,309.3 1454.0,296.7 1456.7,351.0 1461.3,351.0 1463.3,320.0 1468.0,286.7 1470.0,286.7 1472.3,242.7 1475.0,270.0 1479.0,270.0 1481.3,285.0 1485.7,206.7 1488.0,186.7 1490.0,186.0 1492.7,270.0 1500.7,269.3 1507.3,269.0 1510.0,271.7 1512.3,351.0 1514.7,300.0 1517.3,285.7 1523.3,285.0 1525.7,253.3 1529.0,286.7 1530.7,300.0 1533.3,323.3 1535.7,336.7 1540.0,346.7 1546.7,346.7 1548.7,340.0 1550.3,351.0 1553.0,270.0 1556.7,270.0 1558.0,243.3 1560.7,242.7 1563.3,187.7 1567.3,187.7 1570.7,243.3 1572.3,266.7 1575.0,293.3 1577.3,296.7 1580.0,308.3 1581.7,310.0 1584.0,344.3 1587.3,290.0 1590.7,268.3 1594.0,260.0 1596.7,187.3 1600.7,188.3 1612.3,188.7" fill="none" stroke="#86cede" stroke-width="2" stroke-linejoin="round" stroke-linecap="butt"/><polyline points="1619.0,351.0 1621.3,187.3 1624.0,270.0 1629.0,270.0 1630.7,286.7 1633.3,351.0 1635.0,351.0 1637.3,296.7 1639.7,296.0 1642.3,270.0 1646.0,269.0 1650.3,242.3 1657.0,241.7 1659.3,226.7 1662.7,186.7 1667.7,186.7 1671.0,193.3 1673.3,216.7 1676.0,228.3 1679.3,229.3 1681.7,269.0 1688.7,269.0 1691.0,241.7 1693.7,270.0 1697.0,269.0 1701.0,290.0 1703.3,296.7 1706.0,309.3 1708.7,269.0 1712.7,269.0 1715.0,241.7 1717.0,242.3 1719.3,296.7 1721.7,286.0 1723.7,286.0 1726.0,296.7 1729.3,270.0 1732.0,186.7 1737.7,187.7 1740.0,189.0 1743.3,270.0 1746.7,187.7 1748.7,270.0 1751.0,270.0 1754.7,187.7 1756.7,241.7 1759.3,187.7 1762.0,280.0 1767.7,280.7 1770.0,296.7 1772.7,317.7 1775.3,270.0 1778.3,270.0 1780.0,351.7 1781.7,351.7 1784.3,269.0 1786.0,269.0 1788.7,186.7 1792.7,186.7 1795.3,220.0 1797.0,186.7 1801.0,186.7 1803.7,241.7 1806.0,296.7 1808.7,296.7 1812.7,296.7 1816.0,242.3 1819.3,241.7 1822.0,269.0 1823.7,269.0 1826.0,290.0 1828.3,317.7 1831.0,318.3 1833.3,351.0" fill="none" stroke="#86cede" stroke-width="2" stroke-linejoin="round" stroke-linecap="butt"/><polyline points="1840.0,351.0 1842.0,183.3 1844.3,182.7 1846.7,290.0 1849.3,311.7 1852.0,330.0 1853.3,351.0 1856.0,323.3 1857.7,323.3 1860.0,296.7 1863.7,310.0 1866.0,335.0 1868.3,336.7 1870.3,334.3 1873.7,351.0 1875.3,351.0 1878.7,323.3 1881.0,317.7 1885.3,296.7 1887.7,296.0 1891.0,269.0 1895.3,268.3 1897.7,186.7 1901.7,186.0 1903.7,269.0 1908.0,270.0 1913.0,283.3 1916.3,296.7 1918.7,269.0 1924.0,269.0 1926.3,290.0 1928.7,350.0 1931.3,351.0 1938.0,351.0 1940.3,268.3 1942.3,266.7 1944.7,260.7 1947.3,275.0 1949.0,271.7 1951.3,260.0 1954.0,273.3 1955.7,275.0 1958.0,301.7 1961.3,250.0 1964.7,293.3 1967.0,253.3 1969.0,246.7 1972.0,260.0 1974.0,280.0 1976.3,305.0 1978.0,306.7 1979.7,336.7 1982.0,339.3 1985.3,320.0 1991.3,320.0 1995.3,318.3 1997.0,323.3 1999.7,333.3 2003.0,336.7 2006.3,335.0 2008.7,313.3 2011.3,303.3 2015.3,286.7 2017.3,263.3 2019.7,246.7 2022.3,228.3 2024.7,256.7 2026.3,241.7 2028.7,241.7 2033.0,228.3 2035.3,233.3 2037.7,187.7 2040.7,226.7 2043.0,246.7 2044.7,280.0 2046.3,326.7 2049.7,329.3 2053.0,330.0 2056.3,335.0 2058.0,350.0 2061.3,351.0 2081.3,351.0 2084.7,348.3 2091.3,348.3 2094.7,350.7 2104.7,350.7 2114.7,350.0 2131.3,350.0 2141.3,351.0 2170.0,350.0 2173.0,349.4 2175.8,350.3 2180.7,350.7 2183.4,350.3 2186.7,349.7 2189.8,349.1 2193.0,349.2 2197.7,349.1 2202.4,348.8 2205.0,348.3 2208.9,347.9 2211.8,347.7 2215.7,348.4 2220.0,348.9 2223.9,349.0 2227.8,349.2" fill="none" stroke="#86cede" stroke-width="2" stroke-linejoin="round" stroke-linecap="butt"/><polyline points="2241.0,349.9 2245.5,349.7 2248.4,350.5 2252.2,351.1 2256.9,350.8 2260.6,350.8 2264.7,350.0 2267.9,350.2 2271.7,350.5 2275.6,350.3 2279.2,350.0 2282.9,350.6 2287.8,350.7 2291.3,350.7 2296.0,349.9 2299.7,350.1 2302.4,349.5 2305.3,349.6 2308.6,350.0 2311.9,350.5 2314.5,350.3" fill="none" stroke="#86cede" stroke-width="2" stroke-linejoin="round" stroke-linecap="butt"/><polyline points="2324.4,350.0 2328.9,349.4 2332.4,349.0 2336.1,349.3 2340.0,349.0 2344.3,349.1 2348.5,349.2 2351.8,349.0 2356.3,349.1 2361.0,350.1 2364.7,349.9 2368.0,350.4 2372.1,350.4 2375.2,351.0 2380.1,351.0 2382.8,351.2 2385.9,350.4 2388.8,350.7 2391.5,350.6 2394.4,350.7" fill="none" stroke="#86cede" stroke-width="2" stroke-linejoin="round" stroke-linecap="butt"/><polyline points="2412.7,350.5 2417.0,350.0 2420.6,350.0 2423.6,349.6 2426.2,348.5 2429.1,347.7 2433.1,349.5 2436.8,350.0 2439.3,350.1 2441.8,349.8 2444.3,349.7 2449.2,349.3 2452.2,349.4 2455.0,349.8 2459.5,349.4 2462.0,349.8 2466.0,350.3 2470.4,349.7 2474.3,350.0 2478.8,350.0 2481.7,350.4 2484.5,349.8 2488.2,349.6 2492.7,349.0" fill="none" stroke="#86cede" stroke-width="2" stroke-linejoin="round" stroke-linecap="butt"/><polyline points="2509.1,350.1 2512.1,350.1 2516.9,350.6 2520.8,349.9 2524.7,349.9 2529.0,350.7 2533.8,350.3 2538.2,349.7 2540.9,350.5 2543.8,350.4 2548.5,349.7 2552.0,349.6 2556.3,350.0 2561.1,349.4 2565.3,349.0 2569.7,349.0 2573.0,349.6 2576.0,350.4 2580.7,350.6" fill="none" stroke="#86cede" stroke-width="2" stroke-linejoin="round" stroke-linecap="butt"/><polyline points="2589.2,351.0 2592.8,350.9 2596.1,350.2 2599.3,350.1 2603.9,349.4 2607.3,350.3 2612.1,350.2 2615.1,350.8 2618.1,350.9 2620.9,351.2 2625.8,350.6 2628.5,350.5 2632.9,350.4 2635.5,350.5 2638.9,349.8 2640,349.8" fill="none" stroke="#86cede" stroke-width="2" stroke-linejoin="round" stroke-linecap="butt"/><polyline points="1380.0,313.3 1381.3,300.7 1383.3,312.7 1386.0,313.3 1388.0,291.7 1390.7,291.7 1392.7,308.3 1394.7,309.3 1396.7,323.3 1398.3,317.7 1400.0,323.3 1402.3,323.3 1405.0,341.7 1407.3,346.0 1410.0,341.7 1416.7,340.7 1419.0,316.7 1420.7,187.7 1425.0,188.3 1428.0,270.0 1430.0,188.3 1432.3,187.7 1434.7,336.7 1437.3,333.3 1439.7,336.7 1442.3,339.3 1445.0,340.0 1448.0,326.0 1450.7,325.0 1453.0,318.3 1454.7,293.3 1457.3,250.0 1461.3,230.7 1464.0,236.7 1468.0,235.7 1470.0,293.3 1472.3,310.0 1475.0,351.0 1479.0,351.0 1481.3,290.0 1483.3,186.0 1486.0,269.0 1488.0,269.0 1490.7,242.7 1492.7,242.7 1495.0,297.3 1498.3,242.7 1501.3,242.7 1503.3,296.7 1508.3,242.7 1510.7,270.0 1514.7,270.0 1517.3,188.3 1521.7,187.3 1524.0,186.7 1530.7,186.7 1533.3,270.0 1535.0,325.0 1537.3,321.7 1539.0,326.7 1541.3,321.0 1544.0,321.0 1545.7,328.3 1550.7,241.7 1553.0,241.7 1555.7,270.0 1559.0,187.7 1573.0,187.3 1576.0,268.3 1579.3,240.7 1581.7,266.7 1585.7,267.3 1590.7,186.0 1594.0,241.7 1596.7,243.3 1598.0,268.3 1600.0,270.0 1602.7,351.0 1604.0,351.0 1607.3,276.7 1610.7,241.7 1613.0,269.0 1617.3,186.7 1620.7,256.7 1624.7,276.7 1626.7,284.0 1629.0,280.0 1630.7,263.3 1633.3,280.0 1635.0,269.0 1637.3,289.0 1639.7,251.7 1641.7,285.0 1643.3,269.0 1646.0,280.0 1647.7,270.0 1654.3,269.0 1657.7,296.7 1659.3,269.0 1662.0,351.0 1666.0,351.0 1667.7,186.7 1679.3,187.3 1681.7,188.3 1684.3,227.3 1687.7,228.3 1691.0,243.3 1692.7,270.0 1694.3,243.3 1696.0,186.7 1697.7,184.3 1699.3,186.7 1701.7,250.0 1704.3,251.7 1706.0,255.7 1708.7,255.7 1711.0,265.0 1713.3,280.7 1715.0,241.7 1717.0,241.7 1719.3,285.0 1722.7,269.0 1729.3,269.0 1732.0,186.7 1737.7,187.3 1741.7,296.7 1748.7,296.7 1751.0,285.0 1752.7,296.7 1755.3,242.3 1757.0,242.3 1759.3,270.0 1762.0,270.0 1766.0,186.7 1768.7,269.0 1772.0,269.0 1775.3,186.7 1777.7,243.3 1780.0,228.3 1782.0,229.3 1784.3,215.7 1787.0,221.7 1791.0,214.3 1792.7,221.0 1795.3,221.0 1797.0,241.7 1799.3,269.0 1801.7,241.7 1804.3,296.7 1807.7,269.0 1812.7,268.3 1813.7,189.3 1819.3,188.3 1822.0,242.3 1823.7,265.0 1826.0,236.7 1828.3,230.0 1831.0,256.7 1832.7,265.7 1835.3,186.7 1837.7,188.3 1839.3,270.0 1841.0,330.7 1843.7,321.0 1846.7,329.0 1849.3,325.0 1853.3,300.7 1855.0,301.7 1857.0,335.0 1859.3,323.3 1862.0,335.0 1863.7,321.7 1867.0,320.0 1868.7,326.7 1871.0,303.3 1873.3,304.3 1875.3,300.7 1877.7,317.7 1879.3,316.7 1882.7,296.7 1884.7,300.7 1886.7,296.7 1889.3,306.7 1891.0,310.0 1893.3,305.0 1895.3,323.3 1897.7,268.3 1902.7,266.7 1904.3,255.0 1906.7,275.7 1908.0,263.3 1910.7,285.0 1913.0,296.7 1915.7,305.0 1917.3,296.0 1919.7,351.0 1921.3,296.7 1924.0,296.7 1926.3,228.3 1928.7,227.3 1931.3,220.0 1933.0,225.0 1935.3,252.7 1937.3,220.0 1939.0,253.3 1941.7,215.0 1944.0,233.3 1946.3,269.0 1949.0,305.0 1952.3,328.3 1954.7,325.0 1956.3,329.3 1959.0,323.3 1961.3,328.3 1963.7,329.3 1965.7,330.0 1968.0,338.3 1970.7,339.3 1975.3,333.3 1978.0,316.7 1981.3,271.7 1983.0,270.0 1984.0,285.0 1986.3,228.3 1990.7,227.7 1993.7,188.3 1995.7,188.3 1998.0,270.0 2000.3,310.0 2003.0,323.3 2005.3,330.0 2008.0,320.0 2011.3,316.7 2013.0,310.0 2015.3,290.0 2017.3,270.0 2019.7,186.7 2024.7,186.7 2026.3,316.7 2028.7,318.3 2030.7,329.3 2033.0,318.3 2035.3,333.3 2038.0,310.0 2040.7,308.3 2043.0,306.7 2045.3,283.3 2047.3,331.7 2051.3,331.7 2053.0,325.0 2054.7,329.3 2057.3,315.7 2059.7,315.0 2062.0,351.0 2071.3,351.0 2081.3,350.0 2088.0,350.0 2098.0,348.3 2108.0,349.3 2118.0,347.7 2138.0,347.7 2148.0,349.3 2164.7,350.0 2170.0,348.7 2173.0,350.6 2177.1,350.3 2180.8,350.7 2185.2,350.1 2188.9,350.1 2191.9,350.8 2195.2,350.5 2197.9,350.0 2200.9,350.4 2203.4,349.6 2207.7,349.1 2211.7,350.1 2214.9,350.1 2217.6,349.4 2221.0,350.1 2225.5,350.7 2230.2,350.6 2234.0,350.7 2237.6,351.0 2240.2,350.2 2243.2,349.8 2246.1,349.2 2250.8,349.0 2255.1,349.2 2259.3,350.0 2263.0,349.5 2265.9,349.0 2270.5,349.4 2273.9,349.7 2277.3,349.0 2280.7,350.0 2283.3,349.7 2288.2,349.8 2291.9,349.8 2296.2,350.3 2300.1,350.2 2304.1,350.6 2306.9,350.7 2311.7,350.8 2315.6,350.9 2318.3,351.2 2322.7,350.6 2326.1,350.2 2330.2,349.6 2335.0,349.9 2339.9,349.2 2343.8,349.0 2347.4,349.4 2350.5,349.0 2353.3,349.9 2357.7,349.5 2361.4,349.2 2364.0,349.8 2367.1,350.0 2370.0,350.7 2373.3,349.9 2378.1,349.6 2381.7,350.1 2386.5,350.1 2390.8,350.8 2393.8,350.1 2398.2,349.5 2402.1,349.8 2405.9,349.3 2409.2,349.5 2412.3,349.2 2414.8,349.2 2419.5,350.1 2423.4,349.9 2428.0,349.8 2431.1,350.0 2435.9,349.4 2438.6,350.2 2441.3,350.9 2444.9,351.2 2449.4,350.7 2452.2,350.5 2455.4,350.4 2458.4,350.8 2461.3,350.8 2465.5,350.6 2468.1,350.1 2472.7,349.7 2477.1,350.6 2480.6,351.1 2485.0,351.2 2489.2,351.2 2493.3,351.2 2495.9,351.2 2499.1,350.3 2502.3,350.3 2506.1,349.6 2508.7,349.5 2512.4,349.3 2517.3,349.8 2521.4,349.8 2525.2,350.6 2529.7,349.7 2533.0,350.1 2537.9,350.7 2540.5,351.2 2545.0,350.5 2548.5,350.2 2551.0,350.0 2554.6,350.0 2558.0,350.2 2561.0,350.8 2564.5,351.0 2568.7,350.3 2572.9,350.3 2575.9,350.4 2579.5,350.2 2584.4,350.8 2588.0,350.6 2592.2,349.9 2596.5,349.8 2600.9,349.6 2605.4,349.4 2609.5,350.0 2614.2,350.2 2618.2,349.7 2623.0,349.0 2625.5,349.6 2628.7,349.9 2631.5,349.9 2634.1,350.2 2638.9,349.8 2640,349.8" fill="none" stroke="#98bb84" stroke-width="2" stroke-linejoin="round" stroke-linecap="butt"/></g>
<g><path d="M1380.0,769 L1380.0,601.6 L1381.3,589.3 L1387.3,588.9 L1391.3,595.9 L1394.7,596.6 L1396.7,589.9 L1399.0,593.9 L1403.3,591.6 L1405.7,594.9 L1409.0,596.6 L1412.3,595.9 L1414.0,597.6 L1414.0,769 Z" fill="#86cede" fill-opacity="0.18" stroke="none"/><polyline points="1380.0,601.6 1381.3,589.3 1387.3,588.9 1391.3,595.9 1394.7,596.6 1396.7,589.9 1399.0,593.9 1403.3,591.6 1405.7,594.9 1409.0,596.6 1412.3,595.9 1414.0,597.6" fill="none" stroke="#86cede" stroke-width="2" stroke-linejoin="round" stroke-linecap="butt"/><path d="M1430.0,769 L1430.0,768.3 L1434.0,768.3 L1436.3,765.9 L1439.7,767.3 L1443.3,723.3 L1445.7,731.6 L1447.3,731.6 L1450.0,724.9 L1451.7,724.9 L1454.0,709.9 L1456.7,764.9 L1460.7,764.9 L1463.3,733.3 L1468.0,699.9 L1470.0,698.3 L1472.3,654.3 L1475.0,679.9 L1479.0,681.6 L1481.3,699.9 L1483.3,583.9 L1485.0,673.3 L1488.0,596.6 L1490.0,594.9 L1492.7,681.6 L1500.7,681.6 L1507.3,681.6 L1510.0,684.9 L1512.3,749.9 L1514.7,713.3 L1517.3,698.3 L1523.3,697.6 L1525.7,664.9 L1527.3,681.6 L1530.0,599.3 L1531.7,673.3 L1533.3,719.9 L1535.7,724.9 L1540.0,734.9 L1542.3,739.9 L1544.0,753.3 L1547.3,754.9 L1550.3,767.6 L1553.0,683.3 L1556.7,681.6 L1559.3,586.6 L1561.3,596.6 L1563.3,599.9 L1567.3,599.3 L1570.7,653.3 L1572.3,673.3 L1575.0,703.3 L1577.3,706.6 L1580.0,719.9 L1581.7,723.3 L1584.0,760.9 L1587.3,719.9 L1590.7,683.3 L1594.0,673.3 L1596.7,595.9 L1600.7,597.3 L1612.3,597.9 L1612.3,769 Z" fill="#86cede" fill-opacity="0.18" stroke="none"/><polyline points="1430.0,768.3 1434.0,768.3 1436.3,765.9 1439.7,767.3 1443.3,723.3 1445.7,731.6 1447.3,731.6 1450.0,724.9 1451.7,724.9 1454.0,709.9 1456.7,764.9 1460.7,764.9 1463.3,733.3 1468.0,699.9 1470.0,698.3 1472.3,654.3 1475.0,679.9 1479.0,681.6 1481.3,699.9 1483.3,583.9 1485.0,673.3 1488.0,596.6 1490.0,594.9 1492.7,681.6 1500.7,681.6 1507.3,681.6 1510.0,684.9 1512.3,749.9 1514.7,713.3 1517.3,698.3 1523.3,697.6 1525.7,664.9 1527.3,681.6 1530.0,599.3 1531.7,673.3 1533.3,719.9 1535.7,724.9 1540.0,734.9 1542.3,739.9 1544.0,753.3 1547.3,754.9 1550.3,767.6 1553.0,683.3 1556.7,681.6 1559.3,586.6 1561.3,596.6 1563.3,599.9 1567.3,599.3 1570.7,653.3 1572.3,673.3 1575.0,703.3 1577.3,706.6 1580.0,719.9 1581.7,723.3 1584.0,760.9 1587.3,719.9 1590.7,683.3 1594.0,673.3 1596.7,595.9 1600.7,597.3 1612.3,597.9" fill="none" stroke="#86cede" stroke-width="2" stroke-linejoin="round" stroke-linecap="butt"/><path d="M1621.3,769 L1621.3,599.3 L1624.0,681.6 L1629.0,683.3 L1630.7,699.9 L1633.3,767.6 L1635.0,767.6 L1637.3,713.3 L1639.7,709.9 L1642.3,683.3 L1646.0,683.3 L1650.3,654.3 L1657.0,653.3 L1659.3,638.3 L1662.0,593.3 L1666.7,592.6 L1668.3,594.9 L1670.3,619.9 L1673.3,629.9 L1676.0,638.3 L1679.3,638.9 L1681.7,679.9 L1684.3,682.6 L1688.7,681.6 L1691.0,653.3 L1693.7,678.3 L1697.0,677.3 L1701.0,703.3 L1703.3,708.3 L1706.0,724.9 L1708.7,683.3 L1712.7,683.3 L1715.0,653.3 L1717.0,653.3 L1719.3,710.6 L1721.7,688.3 L1723.7,688.3 L1726.0,693.3 L1729.3,666.6 L1732.0,601.6 L1735.0,596.6 L1738.3,598.3 L1740.0,616.6 L1742.7,684.9 L1746.0,654.9 L1748.7,682.6 L1751.0,682.6 L1754.7,598.3 L1759.3,598.3 L1762.0,686.6 L1767.7,688.3 L1770.0,706.6 L1772.7,723.3 L1775.3,683.3 L1778.3,683.3 L1780.0,768.3 L1781.7,768.3 L1784.3,682.3 L1786.0,679.9 L1788.7,597.3 L1797.0,597.6 L1799.3,596.6 L1801.7,597.3 L1803.7,654.9 L1806.0,683.3 L1808.7,710.6 L1812.7,710.6 L1816.0,654.9 L1818.7,653.3 L1821.0,681.6 L1823.7,696.6 L1826.0,706.6 L1828.3,729.9 L1831.0,733.3 L1833.3,767.6 L1833.3,769 Z" fill="#86cede" fill-opacity="0.18" stroke="none"/><polyline points="1621.3,599.3 1624.0,681.6 1629.0,683.3 1630.7,699.9 1633.3,767.6 1635.0,767.6 1637.3,713.3 1639.7,709.9 1642.3,683.3 1646.0,683.3 1650.3,654.3 1657.0,653.3 1659.3,638.3 1662.0,593.3 1666.7,592.6 1668.3,594.9 1670.3,619.9 1673.3,629.9 1676.0,638.3 1679.3,638.9 1681.7,679.9 1684.3,682.6 1688.7,681.6 1691.0,653.3 1693.7,678.3 1697.0,677.3 1701.0,703.3 1703.3,708.3 1706.0,724.9 1708.7,683.3 1712.7,683.3 1715.0,653.3 1717.0,653.3 1719.3,710.6 1721.7,688.3 1723.7,688.3 1726.0,693.3 1729.3,666.6 1732.0,601.6 1735.0,596.6 1738.3,598.3 1740.0,616.6 1742.7,684.9 1746.0,654.9 1748.7,682.6 1751.0,682.6 1754.7,598.3 1759.3,598.3 1762.0,686.6 1767.7,688.3 1770.0,706.6 1772.7,723.3 1775.3,683.3 1778.3,683.3 1780.0,768.3 1781.7,768.3 1784.3,682.3 1786.0,679.9 1788.7,597.3 1797.0,597.6 1799.3,596.6 1801.7,597.3 1803.7,654.9 1806.0,683.3 1808.7,710.6 1812.7,710.6 1816.0,654.9 1818.7,653.3 1821.0,681.6 1823.7,696.6 1826.0,706.6 1828.3,729.9 1831.0,733.3 1833.3,767.6" fill="none" stroke="#86cede" stroke-width="2" stroke-linejoin="round" stroke-linecap="butt"/><path d="M1841.7,769 L1841.7,592.3 L1844.3,592.3 L1846.0,709.9 L1849.3,703.3 L1851.0,709.9 L1852.7,739.9 L1855.0,706.6 L1856.7,736.6 L1859.3,683.3 L1861.3,713.3 L1863.7,719.9 L1866.0,743.3 L1868.3,753.3 L1870.3,750.9 L1873.7,767.6 L1875.3,764.9 L1878.7,736.6 L1881.7,693.3 L1884.3,706.6 L1887.7,713.3 L1891.0,723.3 L1893.3,719.9 L1895.3,733.3 L1897.7,704.9 L1902.7,703.3 L1904.3,709.9 L1906.7,694.9 L1908.0,696.6 L1909.7,699.9 L1913.0,719.9 L1916.3,713.3 L1918.7,681.6 L1924.0,681.6 L1926.3,706.6 L1928.7,762.6 L1931.3,764.9 L1938.0,764.9 L1940.3,681.6 L1942.3,679.9 L1944.7,673.3 L1947.3,686.6 L1949.0,684.9 L1951.3,671.6 L1954.0,686.6 L1955.7,696.6 L1958.0,716.6 L1962.3,662.3 L1964.7,708.3 L1967.0,679.9 L1969.0,674.3 L1972.0,683.3 L1974.0,699.9 L1976.3,733.3 L1978.0,736.6 L1979.7,753.3 L1982.0,755.9 L1985.3,736.6 L1991.3,734.9 L1995.3,733.9 L1997.0,739.9 L1999.7,749.9 L2003.0,752.6 L2006.3,749.9 L2008.7,709.9 L2011.3,699.9 L2015.3,686.6 L2017.3,666.6 L2019.7,653.3 L2022.0,629.9 L2024.7,663.3 L2026.3,649.9 L2028.7,649.9 L2033.0,638.3 L2035.3,644.9 L2037.7,595.9 L2040.7,639.9 L2043.0,676.6 L2044.7,686.6 L2046.3,739.9 L2049.7,739.9 L2053.0,738.3 L2056.3,751.6 L2058.0,756.6 L2061.3,759.9 L2064.7,768.3 L2068.0,766.6 L2074.7,763.9 L2081.3,763.3 L2083.0,767.6 L2084.7,756.6 L2091.3,755.9 L2094.7,761.6 L2098.0,763.3 L2104.7,763.3 L2111.3,763.9 L2116.3,754.9 L2119.7,751.6 L2124.7,754.9 L2128.0,753.3 L2133.0,758.3 L2136.3,756.6 L2138.7,763.3 L2140.7,762.6 L2144.7,753.3 L2148.0,754.9 L2153.0,755.9 L2156.3,764.9 L2161.3,765.9 L2164.7,767.6 L2166.5,764.9 L2168.4,764.4 L2168.4,769 Z" fill="#86cede" fill-opacity="0.18" stroke="none"/><polyline points="1841.7,592.3 1844.3,592.3 1846.0,709.9 1849.3,703.3 1851.0,709.9 1852.7,739.9 1855.0,706.6 1856.7,736.6 1859.3,683.3 1861.3,713.3 1863.7,719.9 1866.0,743.3 1868.3,753.3 1870.3,750.9 1873.7,767.6 1875.3,764.9 1878.7,736.6 1881.7,693.3 1884.3,706.6 1887.7,713.3 1891.0,723.3 1893.3,719.9 1895.3,733.3 1897.7,704.9 1902.7,703.3 1904.3,709.9 1906.7,694.9 1908.0,696.6 1909.7,699.9 1913.0,719.9 1916.3,713.3 1918.7,681.6 1924.0,681.6 1926.3,706.6 1928.7,762.6 1931.3,764.9 1938.0,764.9 1940.3,681.6 1942.3,679.9 1944.7,673.3 1947.3,686.6 1949.0,684.9 1951.3,671.6 1954.0,686.6 1955.7,696.6 1958.0,716.6 1962.3,662.3 1964.7,708.3 1967.0,679.9 1969.0,674.3 1972.0,683.3 1974.0,699.9 1976.3,733.3 1978.0,736.6 1979.7,753.3 1982.0,755.9 1985.3,736.6 1991.3,734.9 1995.3,733.9 1997.0,739.9 1999.7,749.9 2003.0,752.6 2006.3,749.9 2008.7,709.9 2011.3,699.9 2015.3,686.6 2017.3,666.6 2019.7,653.3 2022.0,629.9 2024.7,663.3 2026.3,649.9 2028.7,649.9 2033.0,638.3 2035.3,644.9 2037.7,595.9 2040.7,639.9 2043.0,676.6 2044.7,686.6 2046.3,739.9 2049.7,739.9 2053.0,738.3 2056.3,751.6 2058.0,756.6 2061.3,759.9 2064.7,768.3 2068.0,766.6 2074.7,763.9 2081.3,763.3 2083.0,767.6 2084.7,756.6 2091.3,755.9 2094.7,761.6 2098.0,763.3 2104.7,763.3 2111.3,763.9 2116.3,754.9 2119.7,751.6 2124.7,754.9 2128.0,753.3 2133.0,758.3 2136.3,756.6 2138.7,763.3 2140.7,762.6 2144.7,753.3 2148.0,754.9 2153.0,755.9 2156.3,764.9 2161.3,765.9 2164.7,767.6 2166.5,764.9 2168.4,764.4" fill="none" stroke="#86cede" stroke-width="2" stroke-linejoin="round" stroke-linecap="butt"/><path d="M2178.6,769 L2178.6,768.6 L2182.4,766.3 L2186.1,765.8 L2189.8,765.8 L2191.7,764.9 L2193.6,766.8 L2195.4,767.7 L2199.1,766.8 L2204.7,767.2 L2207.5,764.9 L2210.3,759.3 L2213.1,760.2 L2216.8,760.2 L2219.6,761.6 L2223.4,762.1 L2229.0,763.5 L2234.6,760.2 L2238.3,760.7 L2240.1,762.6 L2242.5,751.9 L2244.8,752.8 L2249.5,756.5 L2251.8,757.0 L2254.1,756.1 L2256.0,763.0 L2258.8,764.9 L2262.5,766.8 L2264.8,761.2 L2269.0,762.1 L2271.4,758.8 L2273.2,760.2 L2275.6,759.8 L2278.4,762.6 L2284.9,756.5 L2287.2,752.3 L2289.1,745.3 L2291.9,745.3 L2294.7,756.5 L2298.4,767.2 L2306.3,767.2 L2309.1,768.6 L2311.9,766.8 L2314.7,766.3 L2317.5,763.5 L2320.3,765.8 L2322.6,757.4 L2329.2,757.4 L2331.5,748.6 L2334.3,760.2 L2336.1,769 L2344.5,769 L2346.4,767.2 L2351.1,765.8 L2355.7,764.0 L2359.4,758.4 L2363.2,756.1 L2365.0,755.6 L2367.4,755.6 L2369.2,767.2 L2371.6,767.7 L2371.6,769 Z" fill="#86cede" fill-opacity="0.18" stroke="none"/><polyline points="2178.6,768.6 2182.4,766.3 2186.1,765.8 2189.8,765.8 2191.7,764.9 2193.6,766.8 2195.4,767.7 2199.1,766.8 2204.7,767.2 2207.5,764.9 2210.3,759.3 2213.1,760.2 2216.8,760.2 2219.6,761.6 2223.4,762.1 2229.0,763.5 2234.6,760.2 2238.3,760.7 2240.1,762.6 2242.5,751.9 2244.8,752.8 2249.5,756.5 2251.8,757.0 2254.1,756.1 2256.0,763.0 2258.8,764.9 2262.5,766.8 2264.8,761.2 2269.0,762.1 2271.4,758.8 2273.2,760.2 2275.6,759.8 2278.4,762.6 2284.9,756.5 2287.2,752.3 2289.1,745.3 2291.9,745.3 2294.7,756.5 2298.4,767.2 2306.3,767.2 2309.1,768.6 2311.9,766.8 2314.7,766.3 2317.5,763.5 2320.3,765.8 2322.6,757.4 2329.2,757.4 2331.5,748.6 2334.3,760.2 2336.1,769 2344.5,769 2346.4,767.2 2351.1,765.8 2355.7,764.0 2359.4,758.4 2363.2,756.1 2365.0,755.6 2367.4,755.6 2369.2,767.2 2371.6,767.7" fill="none" stroke="#86cede" stroke-width="2" stroke-linejoin="round" stroke-linecap="butt"/><path d="M2396.0,769 L2396.0,759.0 L2399.2,761.3 L2403.8,762.6 L2408.4,760.8 L2413.0,759.4 L2417.6,756.7 L2421.2,753.9 L2423.1,745.6 L2424.7,727.5 L2426.8,727.5 L2426.8,769 Z" fill="#86cede" fill-opacity="0.18" stroke="none"/><polyline points="2396.0,759.0 2399.2,761.3 2403.8,762.6 2408.4,760.8 2413.0,759.4 2417.6,756.7 2421.2,753.9 2423.1,745.6 2424.7,727.5 2426.8,727.5" fill="none" stroke="#86cede" stroke-width="2" stroke-linejoin="round" stroke-linecap="butt"/><path d="M2432.3,769 L2432.3,753.9 L2435.0,742.4 L2438.7,742.4 L2441.5,743.8 L2442.8,746.6 L2444.7,744.3 L2447.0,746.6 L2449.7,752.1 L2451.6,766.8 L2451.6,769 Z" fill="#86cede" fill-opacity="0.18" stroke="none"/><polyline points="2432.3,753.9 2435.0,742.4 2438.7,742.4 2441.5,743.8 2442.8,746.6 2444.7,744.3 2447.0,746.6 2449.7,752.1 2451.6,766.8" fill="none" stroke="#86cede" stroke-width="2" stroke-linejoin="round" stroke-linecap="butt"/><path d="M2470.0,769 L2470.0,768.2 L2474.6,766.8 L2478.2,767.7 L2480.5,769 L2483.3,769 L2485.6,761.3 L2489.3,761.3 L2492.0,763.6 L2493.9,763.6 L2496.2,760.3 L2498.9,764.9 L2501.2,766.8 L2503.1,765.4 L2505.8,767.2 L2509.5,769 L2514.1,768.2 L2515.9,764.0 L2518.7,759.0 L2526.0,759.0 L2527.4,761.7 L2529.7,758.5 L2536.6,758.5 L2538.0,753.9 L2540.7,753.0 L2543.0,748.4 L2549.5,748.4 L2549.5,769 Z" fill="#86cede" fill-opacity="0.18" stroke="none"/><polyline points="2470.0,768.2 2474.6,766.8 2478.2,767.7 2480.5,769 2483.3,769 2485.6,761.3 2489.3,761.3 2492.0,763.6 2493.9,763.6 2496.2,760.3 2498.9,764.9 2501.2,766.8 2503.1,765.4 2505.8,767.2 2509.5,769 2514.1,768.2 2515.9,764.0 2518.7,759.0 2526.0,759.0 2527.4,761.7 2529.7,758.5 2536.6,758.5 2538.0,753.9 2540.7,753.0 2543.0,748.4 2549.5,748.4" fill="none" stroke="#86cede" stroke-width="2" stroke-linejoin="round" stroke-linecap="butt"/><path d="M2554.5,769 L2554.5,768.6 L2565.6,768.6 L2566.5,763.1 L2567.8,761.7 L2570.1,764.9 L2572.9,766.3 L2578.4,765.9 L2580.7,767.7 L2583.5,768.2 L2585.8,767.2 L2587.6,765.9 L2598.6,766.3 L2600.0,761.3 L2602.3,762.2 L2605.1,761.3 L2609.7,760.8 L2611.5,765.4 L2615.2,765.9 L2617.9,766.8 L2619.8,766.3 L2622.5,767.2 L2622.5,769 Z" fill="#86cede" fill-opacity="0.18" stroke="none"/><polyline points="2554.5,768.6 2565.6,768.6 2566.5,763.1 2567.8,761.7 2570.1,764.9 2572.9,766.3 2578.4,765.9 2580.7,767.7 2583.5,768.2 2585.8,767.2 2587.6,765.9 2598.6,766.3 2600.0,761.3 2602.3,762.2 2605.1,761.3 2609.7,760.8 2611.5,765.4 2615.2,765.9 2617.9,766.8 2619.8,766.3 2622.5,767.2" fill="none" stroke="#86cede" stroke-width="2" stroke-linejoin="round" stroke-linecap="butt"/><path d="M1380.0,769 L1380.0,724.9 L1381.3,715.9 L1383.3,728.3 L1386.0,728.3 L1388.0,705.9 L1390.7,705.9 L1392.7,724.9 L1394.7,725.9 L1396.7,739.3 L1398.3,734.3 L1400.0,739.3 L1402.3,739.9 L1405.0,758.3 L1407.3,763.3 L1410.0,758.3 L1416.7,757.3 L1419.0,733.3 L1421.7,597.6 L1429.0,598.3 L1430.7,594.9 L1432.7,594.9 L1434.7,753.3 L1437.3,749.3 L1439.7,753.3 L1442.3,755.9 L1445.0,756.6 L1448.0,741.6 L1450.7,739.9 L1453.0,733.3 L1454.7,706.6 L1457.3,623.3 L1461.3,615.9 L1464.0,620.6 L1465.7,620.6 L1468.3,649.9 L1470.0,706.6 L1472.3,723.3 L1475.0,767.6 L1479.0,767.6 L1481.3,706.6 L1483.3,626.6 L1486.0,676.6 L1488.0,676.6 L1490.7,649.9 L1492.7,666.6 L1495.0,711.6 L1498.3,654.9 L1501.3,654.9 L1503.3,710.6 L1508.3,654.9 L1510.7,683.3 L1514.7,683.3 L1517.3,599.3 L1521.7,598.3 L1525.7,590.6 L1532.3,590.6 L1534.0,681.6 L1535.7,704.9 L1539.7,708.3 L1542.3,703.3 L1544.0,704.9 L1545.7,711.6 L1550.7,649.3 L1553.0,649.3 L1555.7,679.9 L1559.0,603.3 L1560.7,594.9 L1573.0,595.9 L1574.7,679.9 L1579.3,651.6 L1581.7,679.9 L1584.0,633.3 L1585.7,633.3 L1588.3,591.6 L1595.0,590.6 L1596.3,656.6 L1598.0,681.6 L1600.0,686.6 L1602.7,767.6 L1604.0,767.6 L1607.3,693.3 L1610.7,654.9 L1613.0,651.6 L1615.7,639.9 L1617.3,638.3 L1620.0,619.9 L1621.3,621.6 L1624.0,643.3 L1625.7,656.6 L1630.7,658.3 L1633.3,688.3 L1635.0,678.3 L1637.3,689.9 L1639.7,679.9 L1641.7,693.3 L1643.3,682.3 L1646.0,693.3 L1647.7,683.3 L1654.3,682.3 L1657.7,710.6 L1659.3,682.3 L1661.0,767.6 L1666.0,767.6 L1667.7,595.9 L1676.7,596.6 L1681.7,591.6 L1684.3,633.3 L1687.7,633.9 L1691.0,653.3 L1692.7,673.3 L1694.3,653.3 L1695.0,592.6 L1699.3,595.9 L1701.7,659.9 L1704.3,661.6 L1706.0,653.3 L1708.7,671.6 L1711.0,681.6 L1713.3,696.6 L1715.0,652.3 L1717.0,652.3 L1719.3,698.3 L1722.7,679.9 L1726.7,681.6 L1729.3,666.6 L1732.0,596.6 L1737.7,596.6 L1741.7,710.6 L1752.0,710.6 L1753.3,654.9 L1755.3,653.3 L1757.0,673.3 L1759.3,682.3 L1762.0,684.9 L1766.0,599.3 L1768.7,682.3 L1772.0,643.3 L1775.3,641.6 L1777.7,636.6 L1781.7,600.6 L1784.3,629.9 L1787.0,633.3 L1791.0,621.6 L1792.7,631.6 L1795.3,638.3 L1797.0,658.3 L1799.3,668.3 L1801.7,679.9 L1804.3,703.3 L1807.7,679.9 L1809.3,598.3 L1813.7,597.3 L1817.0,586.6 L1819.3,583.9 L1822.0,646.6 L1823.7,648.3 L1826.0,636.6 L1828.3,633.3 L1831.0,656.6 L1832.7,653.3 L1837.3,599.9 L1839.3,679.9 L1841.0,744.9 L1843.7,734.9 L1846.7,741.6 L1849.3,736.6 L1853.3,699.9 L1855.0,713.3 L1857.0,743.3 L1859.3,736.6 L1862.0,739.9 L1863.7,734.9 L1867.0,736.6 L1868.7,751.6 L1871.0,719.9 L1873.3,706.6 L1875.3,706.6 L1877.7,726.6 L1879.3,723.3 L1882.7,699.9 L1886.0,683.3 L1888.7,671.6 L1891.0,642.6 L1895.3,641.6 L1897.7,548.3 L1900.3,568.3 L1902.7,603.3 L1904.3,696.6 L1906.7,693.3 L1908.0,694.9 L1910.7,703.3 L1913.0,713.3 L1915.7,719.9 L1917.3,716.6 L1919.7,767.6 L1921.3,713.3 L1924.0,706.6 L1926.3,638.3 L1928.7,636.6 L1931.3,629.3 L1933.0,636.6 L1935.3,638.3 L1937.3,629.9 L1939.0,638.3 L1941.7,623.3 L1944.0,643.3 L1946.3,685.6 L1949.0,714.9 L1952.3,743.3 L1954.7,729.9 L1956.3,734.9 L1959.0,724.9 L1961.3,723.3 L1963.7,733.3 L1965.7,729.9 L1968.0,749.9 L1970.7,751.6 L1975.3,746.6 L1978.0,733.3 L1981.3,684.9 L1983.0,681.6 L1985.3,673.3 L1988.7,639.9 L1990.7,639.3 L1993.7,597.6 L1995.7,597.6 L1998.0,679.9 L2000.3,719.9 L2003.0,736.6 L2005.3,743.3 L2008.0,706.6 L2011.3,699.9 L2013.0,689.9 L2015.3,666.6 L2017.3,656.6 L2018.7,649.9 L2020.0,583.9 L2022.0,588.3 L2024.7,588.3 L2026.3,733.3 L2028.7,736.6 L2030.7,745.9 L2033.0,733.3 L2035.3,748.3 L2038.0,723.3 L2040.7,721.6 L2043.0,719.9 L2045.3,686.6 L2047.3,744.9 L2051.3,744.9 L2053.0,739.9 L2054.7,744.9 L2057.3,724.3 L2059.7,723.3 L2062.0,761.6 L2064.7,763.3 L2071.3,761.6 L2073.0,765.9 L2081.3,763.9 L2083.0,768.3 L2084.7,763.3 L2089.7,763.3 L2094.7,753.3 L2098.0,748.3 L2101.3,749.9 L2104.7,761.6 L2111.3,763.3 L2114.7,764.9 L2121.3,763.3 L2128.0,763.9 L2131.3,761.6 L2138.0,759.9 L2141.3,754.9 L2146.3,756.6 L2149.7,753.3 L2153.0,763.3 L2158.0,763.9 L2164.7,763.3 L2166.5,760.2 L2169.3,757.4 L2171.2,757.9 L2174.0,759.8 L2177.7,759.8 L2180.0,763.5 L2183.3,764.4 L2188.0,764.7 L2191.2,763.5 L2193.6,765.8 L2197.3,765.8 L2199.1,765.4 L2202.9,765.4 L2204.7,767.2 L2206.6,762.1 L2208.9,756.5 L2211.3,756.5 L2213.6,759.3 L2216.4,759.3 L2218.2,758.4 L2220.6,758.4 L2223.4,759.8 L2228.0,760.7 L2232.7,760.7 L2235.5,759.3 L2239.2,759.3 L2242.0,759.8 L2248.5,759.8 L2251.3,760.2 L2253.2,757.9 L2256.0,760.2 L2257.9,755.1 L2260.7,762.6 L2264.4,761.6 L2269.0,763.0 L2271.8,761.6 L2277.4,764.0 L2282.1,764.0 L2284.9,766.8 L2287.7,762.1 L2291.4,761.2 L2294.2,756.1 L2296.1,754.2 L2298.9,753.7 L2302.6,755.6 L2304.5,752.8 L2308.2,755.6 L2311.0,755.6 L2313.8,751.9 L2316.1,745.8 L2318.4,764.0 L2320.3,764.9 L2324.0,760.2 L2326.8,758.8 L2329.6,761.6 L2333.3,762.6 L2336.1,764.0 L2338.0,762.1 L2340.8,763.0 L2343.6,762.1 L2347.3,760.2 L2350.1,759.3 L2352.0,760.2 L2353.8,754.7 L2356.6,754.7 L2359.0,756.5 L2361.3,761.6 L2365.0,761.6 L2367.8,761.2 L2371.6,762.1 L2373.9,759.3 L2376.2,761.2 L2378.1,760.2 L2380.9,757.4 L2387.4,757.4 L2389.7,754.7 L2390.0,755.7 L2393.7,754.2 L2396.0,754.2 L2397.8,759.9 L2400.1,761.3 L2402.9,760.8 L2405.6,761.3 L2409.3,759.0 L2413.9,756.2 L2417.6,753.4 L2419.4,754.8 L2421.7,749.3 L2423.1,745.6 L2424.7,755.7 L2426.8,753.9 L2429.5,753.9 L2433.2,755.3 L2436.0,757.1 L2438.3,752.1 L2440.1,755.7 L2442.4,756.2 L2445.1,755.3 L2448.8,755.3 L2451.1,759.4 L2453.4,761.7 L2455.7,762.6 L2458.0,761.3 L2462.6,761.3 L2465.4,762.2 L2467.2,756.2 L2470.0,766.3 L2472.7,767.2 L2478.2,766.3 L2481.0,766.3 L2485.1,759.9 L2489.3,759.9 L2491.1,761.7 L2495.7,761.3 L2498.5,764.9 L2501.2,766.3 L2504.9,766.3 L2508.6,766.3 L2512.2,764.5 L2515.0,762.6 L2518.2,753.0 L2522.4,753.0 L2524.7,751.6 L2527.4,747.5 L2529.7,760.3 L2533.4,760.8 L2542.6,760.8 L2545.3,758.0 L2549.9,757.6 L2552.2,754.8 L2555.4,754.4 L2558.7,755.7 L2561.0,758.5 L2563.3,758.5 L2565.6,764.0 L2567.4,762.2 L2570.1,764.9 L2573.8,766.3 L2578.4,765.4 L2581.2,768.2 L2583.9,768.2 L2586.7,761.7 L2589.4,760.3 L2594.0,760.8 L2598.6,759.0 L2600.5,756.7 L2602.8,756.2 L2605.1,751.6 L2607.4,751.6 L2610.1,754.8 L2612.0,755.7 L2613.8,760.8 L2616.6,764.0 L2619.3,765.9 L2620.7,763.1 L2622.5,762.2 L2622.5,769 Z" fill="#86cede" fill-opacity="0.18" stroke="none"/><polyline points="1380.0,724.9 1381.3,715.9 1383.3,728.3 1386.0,728.3 1388.0,705.9 1390.7,705.9 1392.7,724.9 1394.7,725.9 1396.7,739.3 1398.3,734.3 1400.0,739.3 1402.3,739.9 1405.0,758.3 1407.3,763.3 1410.0,758.3 1416.7,757.3 1419.0,733.3 1421.7,597.6 1429.0,598.3 1430.7,594.9 1432.7,594.9 1434.7,753.3 1437.3,749.3 1439.7,753.3 1442.3,755.9 1445.0,756.6 1448.0,741.6 1450.7,739.9 1453.0,733.3 1454.7,706.6 1457.3,623.3 1461.3,615.9 1464.0,620.6 1465.7,620.6 1468.3,649.9 1470.0,706.6 1472.3,723.3 1475.0,767.6 1479.0,767.6 1481.3,706.6 1483.3,626.6 1486.0,676.6 1488.0,676.6 1490.7,649.9 1492.7,666.6 1495.0,711.6 1498.3,654.9 1501.3,654.9 1503.3,710.6 1508.3,654.9 1510.7,683.3 1514.7,683.3 1517.3,599.3 1521.7,598.3 1525.7,590.6 1532.3,590.6 1534.0,681.6 1535.7,704.9 1539.7,708.3 1542.3,703.3 1544.0,704.9 1545.7,711.6 1550.7,649.3 1553.0,649.3 1555.7,679.9 1559.0,603.3 1560.7,594.9 1573.0,595.9 1574.7,679.9 1579.3,651.6 1581.7,679.9 1584.0,633.3 1585.7,633.3 1588.3,591.6 1595.0,590.6 1596.3,656.6 1598.0,681.6 1600.0,686.6 1602.7,767.6 1604.0,767.6 1607.3,693.3 1610.7,654.9 1613.0,651.6 1615.7,639.9 1617.3,638.3 1620.0,619.9 1621.3,621.6 1624.0,643.3 1625.7,656.6 1630.7,658.3 1633.3,688.3 1635.0,678.3 1637.3,689.9 1639.7,679.9 1641.7,693.3 1643.3,682.3 1646.0,693.3 1647.7,683.3 1654.3,682.3 1657.7,710.6 1659.3,682.3 1661.0,767.6 1666.0,767.6 1667.7,595.9 1676.7,596.6 1681.7,591.6 1684.3,633.3 1687.7,633.9 1691.0,653.3 1692.7,673.3 1694.3,653.3 1695.0,592.6 1699.3,595.9 1701.7,659.9 1704.3,661.6 1706.0,653.3 1708.7,671.6 1711.0,681.6 1713.3,696.6 1715.0,652.3 1717.0,652.3 1719.3,698.3 1722.7,679.9 1726.7,681.6 1729.3,666.6 1732.0,596.6 1737.7,596.6 1741.7,710.6 1752.0,710.6 1753.3,654.9 1755.3,653.3 1757.0,673.3 1759.3,682.3 1762.0,684.9 1766.0,599.3 1768.7,682.3 1772.0,643.3 1775.3,641.6 1777.7,636.6 1781.7,600.6 1784.3,629.9 1787.0,633.3 1791.0,621.6 1792.7,631.6 1795.3,638.3 1797.0,658.3 1799.3,668.3 1801.7,679.9 1804.3,703.3 1807.7,679.9 1809.3,598.3 1813.7,597.3 1817.0,586.6 1819.3,583.9 1822.0,646.6 1823.7,648.3 1826.0,636.6 1828.3,633.3 1831.0,656.6 1832.7,653.3 1837.3,599.9 1839.3,679.9 1841.0,744.9 1843.7,734.9 1846.7,741.6 1849.3,736.6 1853.3,699.9 1855.0,713.3 1857.0,743.3 1859.3,736.6 1862.0,739.9 1863.7,734.9 1867.0,736.6 1868.7,751.6 1871.0,719.9 1873.3,706.6 1875.3,706.6 1877.7,726.6 1879.3,723.3 1882.7,699.9 1886.0,683.3 1888.7,671.6 1891.0,642.6 1895.3,641.6 1897.7,548.3 1900.3,568.3 1902.7,603.3 1904.3,696.6 1906.7,693.3 1908.0,694.9 1910.7,703.3 1913.0,713.3 1915.7,719.9 1917.3,716.6 1919.7,767.6 1921.3,713.3 1924.0,706.6 1926.3,638.3 1928.7,636.6 1931.3,629.3 1933.0,636.6 1935.3,638.3 1937.3,629.9 1939.0,638.3 1941.7,623.3 1944.0,643.3 1946.3,685.6 1949.0,714.9 1952.3,743.3 1954.7,729.9 1956.3,734.9 1959.0,724.9 1961.3,723.3 1963.7,733.3 1965.7,729.9 1968.0,749.9 1970.7,751.6 1975.3,746.6 1978.0,733.3 1981.3,684.9 1983.0,681.6 1985.3,673.3 1988.7,639.9 1990.7,639.3 1993.7,597.6 1995.7,597.6 1998.0,679.9 2000.3,719.9 2003.0,736.6 2005.3,743.3 2008.0,706.6 2011.3,699.9 2013.0,689.9 2015.3,666.6 2017.3,656.6 2018.7,649.9 2020.0,583.9 2022.0,588.3 2024.7,588.3 2026.3,733.3 2028.7,736.6 2030.7,745.9 2033.0,733.3 2035.3,748.3 2038.0,723.3 2040.7,721.6 2043.0,719.9 2045.3,686.6 2047.3,744.9 2051.3,744.9 2053.0,739.9 2054.7,744.9 2057.3,724.3 2059.7,723.3 2062.0,761.6 2064.7,763.3 2071.3,761.6 2073.0,765.9 2081.3,763.9 2083.0,768.3 2084.7,763.3 2089.7,763.3 2094.7,753.3 2098.0,748.3 2101.3,749.9 2104.7,761.6 2111.3,763.3 2114.7,764.9 2121.3,763.3 2128.0,763.9 2131.3,761.6 2138.0,759.9 2141.3,754.9 2146.3,756.6 2149.7,753.3 2153.0,763.3 2158.0,763.9 2164.7,763.3 2166.5,760.2 2169.3,757.4 2171.2,757.9 2174.0,759.8 2177.7,759.8 2180.0,763.5 2183.3,764.4 2188.0,764.7 2191.2,763.5 2193.6,765.8 2197.3,765.8 2199.1,765.4 2202.9,765.4 2204.7,767.2 2206.6,762.1 2208.9,756.5 2211.3,756.5 2213.6,759.3 2216.4,759.3 2218.2,758.4 2220.6,758.4 2223.4,759.8 2228.0,760.7 2232.7,760.7 2235.5,759.3 2239.2,759.3 2242.0,759.8 2248.5,759.8 2251.3,760.2 2253.2,757.9 2256.0,760.2 2257.9,755.1 2260.7,762.6 2264.4,761.6 2269.0,763.0 2271.8,761.6 2277.4,764.0 2282.1,764.0 2284.9,766.8 2287.7,762.1 2291.4,761.2 2294.2,756.1 2296.1,754.2 2298.9,753.7 2302.6,755.6 2304.5,752.8 2308.2,755.6 2311.0,755.6 2313.8,751.9 2316.1,745.8 2318.4,764.0 2320.3,764.9 2324.0,760.2 2326.8,758.8 2329.6,761.6 2333.3,762.6 2336.1,764.0 2338.0,762.1 2340.8,763.0 2343.6,762.1 2347.3,760.2 2350.1,759.3 2352.0,760.2 2353.8,754.7 2356.6,754.7 2359.0,756.5 2361.3,761.6 2365.0,761.6 2367.8,761.2 2371.6,762.1 2373.9,759.3 2376.2,761.2 2378.1,760.2 2380.9,757.4 2387.4,757.4 2389.7,754.7 2390.0,755.7 2393.7,754.2 2396.0,754.2 2397.8,759.9 2400.1,761.3 2402.9,760.8 2405.6,761.3 2409.3,759.0 2413.9,756.2 2417.6,753.4 2419.4,754.8 2421.7,749.3 2423.1,745.6 2424.7,755.7 2426.8,753.9 2429.5,753.9 2433.2,755.3 2436.0,757.1 2438.3,752.1 2440.1,755.7 2442.4,756.2 2445.1,755.3 2448.8,755.3 2451.1,759.4 2453.4,761.7 2455.7,762.6 2458.0,761.3 2462.6,761.3 2465.4,762.2 2467.2,756.2 2470.0,766.3 2472.7,767.2 2478.2,766.3 2481.0,766.3 2485.1,759.9 2489.3,759.9 2491.1,761.7 2495.7,761.3 2498.5,764.9 2501.2,766.3 2504.9,766.3 2508.6,766.3 2512.2,764.5 2515.0,762.6 2518.2,753.0 2522.4,753.0 2524.7,751.6 2527.4,747.5 2529.7,760.3 2533.4,760.8 2542.6,760.8 2545.3,758.0 2549.9,757.6 2552.2,754.8 2555.4,754.4 2558.7,755.7 2561.0,758.5 2563.3,758.5 2565.6,764.0 2567.4,762.2 2570.1,764.9 2573.8,766.3 2578.4,765.4 2581.2,768.2 2583.9,768.2 2586.7,761.7 2589.4,760.3 2594.0,760.8 2598.6,759.0 2600.5,756.7 2602.8,756.2 2605.1,751.6 2607.4,751.6 2610.1,754.8 2612.0,755.7 2613.8,760.8 2616.6,764.0 2619.3,765.9 2620.7,763.1 2622.5,762.2" fill="none" stroke="#86cede" stroke-width="2" stroke-linejoin="round" stroke-linecap="butt"/></g></svg>
<div class="title" style="left:309.20000000000005px;top:15.099999999999998px;letter-spacing:-0.31px">Total CPU Usage by Endpoint</div>
<div class="title" style="left:1702.7px;top:15.099999999999998px;letter-spacing:-0.41px">Average CPU Usage by Endpoint</div>
<div class="title" style="left:309.5px;top:432.1px;letter-spacing:-0.26px">DB Usage by endpoint</div>
<div class="title" style="left:1703.6px;top:432.1px;letter-spacing:0.08px">Non-sync avg response time</div>
<div class="tick" style="left:75px;top:368.5px">21/Mar 16:00</div>
<div class="tick" style="left:285px;top:368.5px">22/Mar 00:00</div>
<div class="tick" style="left:497px;top:368.5px">22/Mar 08:00</div>
<div class="tick" style="left:707px;top:368.5px">22/Mar 16:00</div>
<div class="tick" style="left:919px;top:368.5px">23/Mar 00:00</div>
<div class="tick" style="left:1129px;top:368.5px">23/Mar 08:00</div>
<div class="tick" style="left:1455px;top:368.5px">21/Mar 16:00</div>
<div class="tick" style="left:1669px;top:368.5px">22/Mar 00:00</div>
<div class="tick" style="left:1883px;top:368.5px">22/Mar 08:00</div>
<div class="tick" style="left:2095px;top:368.5px">22/Mar 16:00</div>
<div class="tick" style="left:2309px;top:368.5px">23/Mar 00:00</div>
<div class="tick" style="left:2523px;top:368.5px">23/Mar 08:00</div>
<div class="tick" style="left:75px;top:785.5px">21/Mar 16:00</div>
<div class="tick" style="left:285px;top:785.5px">22/Mar 00:00</div>
<div class="tick" style="left:497px;top:785.5px">22/Mar 08:00</div>
<div class="tick" style="left:707px;top:785.5px">22/Mar 16:00</div>
<div class="tick" style="left:919px;top:785.5px">23/Mar 00:00</div>
<div class="tick" style="left:1129px;top:785.5px">23/Mar 08:00</div>
<div class="tick" style="left:1455px;top:785.5px">21/Mar 16:00</div>
<div class="tick" style="left:1669px;top:785.5px">22/Mar 00:00</div>
<div class="tick" style="left:1883px;top:785.5px">22/Mar 08:00</div>
<div class="tick" style="left:2095px;top:785.5px">22/Mar 16:00</div>
<div class="tick" style="left:2309px;top:785.5px">23/Mar 00:00</div>
<div class="tick" style="left:2523px;top:785.5px">23/Mar 08:00</div>
<div class="sb"></div>
</body>
</html>
